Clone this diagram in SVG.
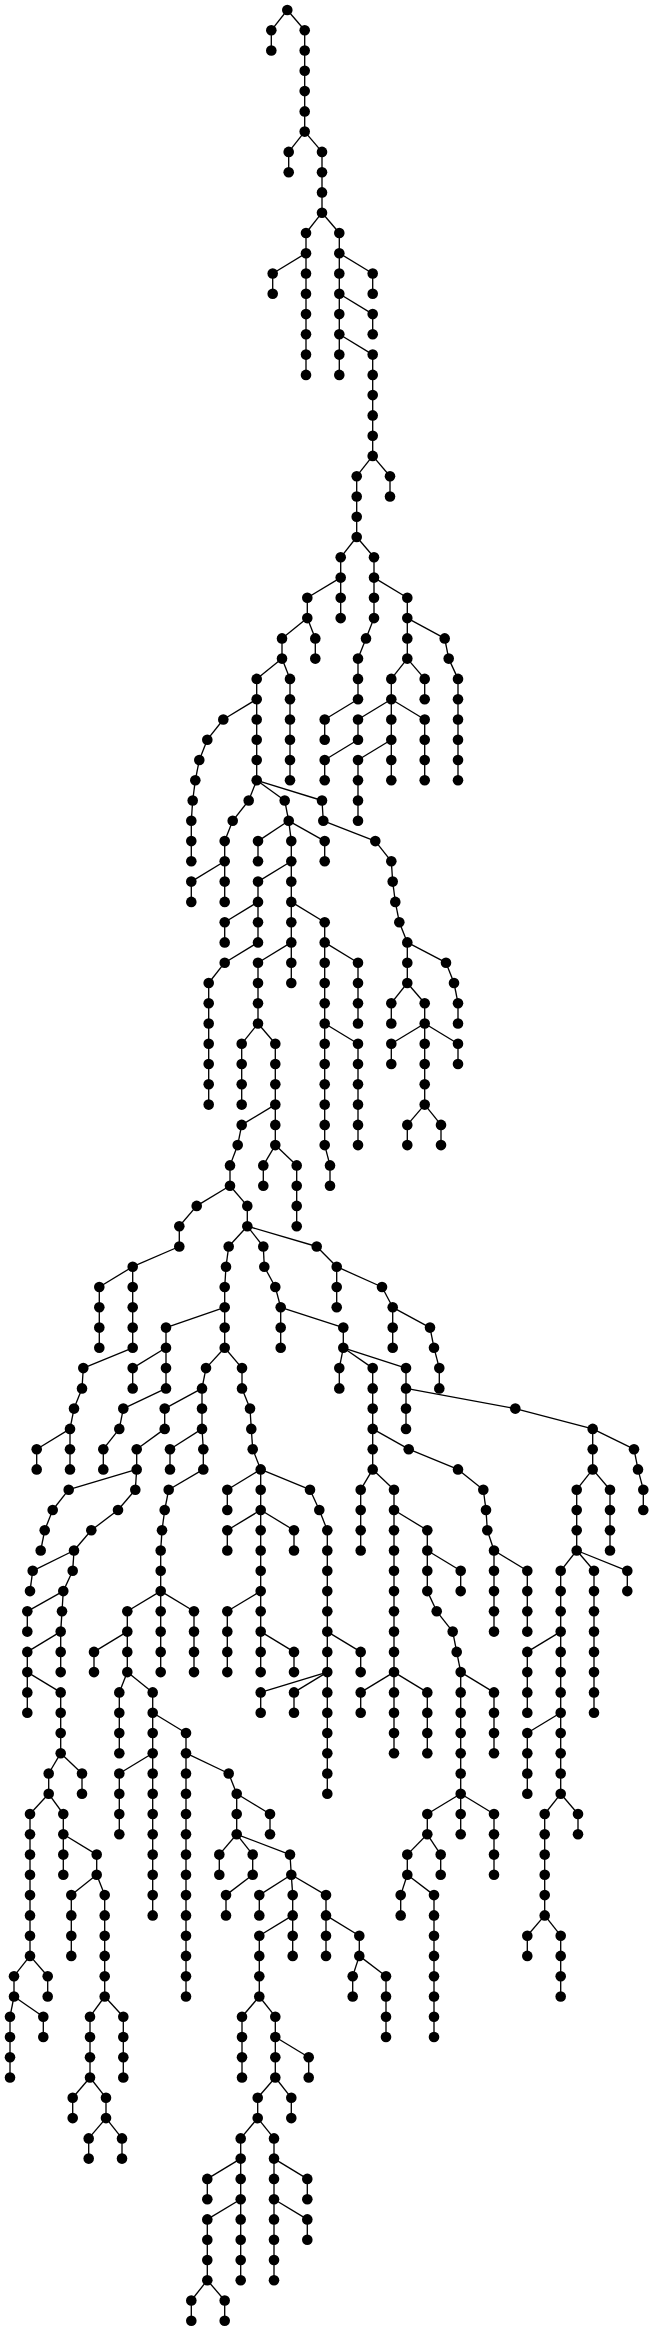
<svg xmlns="http://www.w3.org/2000/svg" width="654" height="2331" viewBox="0 0 654 2331">
<style>
path{fill:none;stroke:#000;stroke-width:1.33}
circle{fill:#000;stroke:none}
</style>
<rect width="654" height="2331" fill="#fff"/>
<g id="connectors">
<path d="M287.3 10L271.3 30.3"/><path d="M271.3 30.3L271.3 50.5"/>
<path d="M287.3 10L304.7 30.3"/><path d="M304.7 30.3L304.7 50.5"/><path d="M304.7 50.5L304.7 70.8"/><path d="M304.7 70.8L304.7 91.1"/><path d="M304.7 91.1L304.7 111.4"/><path d="M304.7 111.4L304.7 131.6"/>
<path d="M304.7 131.6L288.7 151.9"/><path d="M288.7 151.9L288.7 172.2"/>
<path d="M304.7 131.6L322 151.9"/><path d="M322 151.9L322 172.2"/><path d="M322 172.2L322 192.4"/><path d="M322 192.4L322 212.7"/>
<path d="M322 212.7L306 233"/><path d="M306 233L306 253.2"/><path d="M306 253.2L306 273.5"/><path d="M306 273.5L306 293.8"/><path d="M306 293.8L306 314.1"/><path d="M306 314.1L306 334.3"/><path d="M306 334.3L306 354.6"/><path d="M306 354.6L306 374.9"/>
<path d="M322 212.7L339.3 233"/><path d="M339.3 233L339.3 253.2"/><path d="M339.3 253.2L339.3 273.5"/><path d="M339.3 273.5L339.3 293.8"/><path d="M339.3 293.8L339.3 314.1"/><path d="M339.3 314.1L339.3 334.3"/><path d="M339.3 334.3L339.3 354.6"/><path d="M339.3 354.6L339.3 374.9"/>
<path d="M306 253.2L272.7 273.5"/><path d="M272.7 273.5L272.7 293.8"/>
<path d="M339.3 253.2L372.7 273.5"/><path d="M372.7 273.5L372.7 293.8"/>
<path d="M339.3 293.8L372.7 314.1"/><path d="M372.7 314.1L372.7 334.3"/>
<path d="M339.3 334.3L372.7 354.6"/><path d="M372.7 354.6L372.7 374.9"/><path d="M372.7 374.9L372.7 395.1"/><path d="M372.7 395.1L372.7 415.4"/><path d="M372.7 415.4L372.7 435.7"/><path d="M372.7 435.7L372.7 455.9"/>
<path d="M372.7 455.9L390 476.2"/><path d="M390 476.2L390 496.5"/>
<path d="M372.7 455.9L356.7 476.2"/><path d="M356.7 476.2L356.7 496.5"/><path d="M356.7 496.5L356.7 516.8"/><path d="M356.7 516.8L356.7 537"/>
<path d="M356.7 537L340.7 557.3"/><path d="M340.7 557.3L340.7 577.6"/><path d="M340.7 577.6L340.7 597.8"/><path d="M340.7 597.8L340.7 618.1"/>
<path d="M340.7 577.6L307.3 597.8"/><path d="M307.3 597.8L307.3 618.1"/>
<path d="M307.3 618.1L315.3 638.4"/><path d="M315.3 638.4L315.3 658.6"/>
<path d="M307.3 618.1L282 638.4"/><path d="M282 638.4L282 658.6"/>
<path d="M282 658.6L290 678.9"/><path d="M290 678.9L290 699.2"/><path d="M290 699.2L290 719.5"/><path d="M290 719.5L290 739.7"/><path d="M290 739.7L290 760"/><path d="M290 760L290 780.3"/>
<path d="M282 658.6L256.7 678.9"/><path d="M256.7 678.9L256.7 699.2"/><path d="M256.7 699.2L256.7 719.5"/><path d="M256.7 719.5L256.7 739.7"/><path d="M256.7 739.7L256.7 760"/><path d="M256.7 760L256.7 780.3"/>
<path d="M256.7 699.2L223.3 719.5"/><path d="M223.3 719.5L207.3 739.7"/><path d="M207.3 739.7L199.3 760"/><path d="M199.3 760L195.3 780.3"/><path d="M195.3 780.3L192.7 800.5"/><path d="M192.7 800.5L191.3 820.8"/><path d="M191.3 820.8L191.3 841.1"/><path d="M191.3 841.1L191.3 861.3"/>
<path d="M356.7 537L374 557.3"/><path d="M374 557.3L374 577.6"/><path d="M374 577.6L374 597.8"/><path d="M374 597.8L374 618.1"/>
<path d="M374 618.1L366 638.4"/><path d="M366 638.4L358 658.6"/><path d="M358 658.6L358 678.9"/><path d="M358 678.9L358 699.2"/>
<path d="M358 699.2L324.7 719.5"/><path d="M324.7 719.5L324.7 739.7"/>
<path d="M374 577.6L407.3 597.8"/><path d="M407.3 597.8L407.3 618.1"/><path d="M407.3 618.1L407.3 638.4"/><path d="M407.3 638.4L407.3 658.6"/>
<path d="M407.3 618.1L444.7 638.4"/><path d="M444.7 638.4L448.7 658.6"/><path d="M448.7 658.6L458 678.9"/><path d="M458 678.9L458 699.2"/><path d="M458 699.2L458 719.5"/><path d="M458 719.5L458 739.7"/><path d="M458 739.7L458 760"/><path d="M458 760L458 780.3"/>
<path d="M407.3 658.6L424.7 678.9"/><path d="M424.7 678.9L424.7 699.2"/>
<path d="M407.3 658.6L391.3 678.9"/><path d="M391.3 678.9L391.3 699.2"/><path d="M391.3 699.2L391.3 719.5"/><path d="M391.3 719.5L391.3 739.7"/><path d="M391.3 739.7L391.3 760"/><path d="M391.3 760L391.3 780.3"/>
<path d="M391.3 699.2L358 719.5"/><path d="M358 719.5L358 739.7"/>
<path d="M391.3 699.2L424.7 719.5"/><path d="M424.7 719.5L424.7 739.7"/><path d="M424.7 739.7L424.7 760"/><path d="M424.7 760L424.7 780.3"/>
<path d="M358 739.7L324.7 760"/><path d="M324.7 760L324.7 780.3"/>
<path d="M391.3 739.7L358 760"/><path d="M358 760L358 780.3"/><path d="M358 780.3L358 800.5"/><path d="M358 800.5L358 820.8"/>
<path d="M256.7 780.3L248.7 800.5"/><path d="M248.7 800.5L232.7 820.8"/><path d="M232.7 820.8L224.7 841.1"/><path d="M224.7 841.1L224.7 861.3"/><path d="M224.7 861.3L224.7 881.6"/><path d="M224.7 881.6L224.7 901.9"/>
<path d="M224.7 861.3L191.3 881.6"/><path d="M191.3 881.6L191.3 901.9"/>
<path d="M256.7 780.3L284.7 800.5"/><path d="M284.7 800.5L288.7 820.8"/>
<path d="M288.7 820.8L258 841.1"/><path d="M258 841.1L258 861.3"/>
<path d="M288.7 820.8L324.7 841.1"/><path d="M324.7 841.1L324.7 861.3"/>
<path d="M288.7 820.8L291.3 841.1"/><path d="M291.3 841.1L291.3 861.3"/><path d="M291.3 861.3L291.3 881.6"/><path d="M291.3 881.6L291.3 901.9"/><path d="M291.3 901.9L291.3 922.2"/><path d="M291.3 922.2L291.3 942.4"/><path d="M291.3 942.4L291.3 962.7"/><path d="M291.3 962.7L291.3 983"/>
<path d="M256.7 780.3L322 800.5"/><path d="M322 800.5L323.3 820.8"/><path d="M323.3 820.8L375.3 841.1"/><path d="M375.3 841.1L391.3 861.3"/><path d="M391.3 861.3L392.7 881.6"/><path d="M392.7 881.6L395.3 901.9"/><path d="M395.3 901.9L399.3 922.2"/><path d="M399.3 922.2L407.3 942.4"/><path d="M407.3 942.4L407.3 962.7"/><path d="M407.3 962.7L407.3 983"/>
<path d="M291.3 861.3L258 881.6"/><path d="M258 881.6L258 901.9"/><path d="M258 901.9L258 922.2"/><path d="M258 922.2L258 942.4"/>
<path d="M258 901.9L224.7 922.2"/><path d="M224.7 922.2L224.7 942.4"/>
<path d="M258 942.4L224.7 962.7"/><path d="M224.7 962.7L208.7 983"/><path d="M208.7 983L208.7 1003.2"/><path d="M208.7 1003.2L208.7 1023.5"/><path d="M208.7 1023.5L208.7 1043.8"/><path d="M208.7 1043.8L208.7 1064"/><path d="M208.7 1064L208.7 1084.3"/><path d="M208.7 1084.3L208.7 1104.6"/>
<path d="M291.3 901.9L324.7 922.2"/><path d="M324.7 922.2L324.7 942.4"/><path d="M324.7 942.4L324.7 962.7"/><path d="M324.7 962.7L324.7 983"/><path d="M324.7 983L324.7 1003.2"/><path d="M324.7 1003.2L324.7 1023.5"/><path d="M324.7 1023.5L324.7 1043.8"/><path d="M324.7 1043.8L324.7 1064"/><path d="M324.7 1064L324.7 1084.3"/><path d="M324.7 1084.3L324.7 1104.6"/><path d="M324.7 1104.6L324.7 1124.9"/><path d="M324.7 1124.9L324.7 1145.1"/><path d="M324.7 1145.1L330 1165.4"/><path d="M330 1165.4L330 1185.7"/>
<path d="M324.7 942.4L358 962.7"/><path d="M358 962.7L358 983"/><path d="M358 983L358 1003.2"/><path d="M358 1003.2L358 1023.5"/>
<path d="M324.7 1023.5L358 1043.8"/><path d="M358 1043.8L358 1064"/><path d="M358 1064L358 1084.3"/><path d="M358 1084.3L358 1104.6"/><path d="M358 1104.6L358 1124.9"/><path d="M358 1124.9L358 1145.1"/>
<path d="M291.3 942.4L258 962.7"/><path d="M258 962.7L258 983"/><path d="M258 983L258 1003.2"/><path d="M258 1003.2L258 1023.5"/>
<path d="M258 1023.5L241.7 1043.8"/><path d="M241.7 1043.8L241.7 1064"/><path d="M241.7 1064L241.7 1084.3"/><path d="M241.7 1084.3L241.7 1104.6"/>
<path d="M258 1023.5L275.3 1043.8"/><path d="M275.3 1043.8L275.3 1064"/><path d="M275.3 1064L275.3 1084.3"/><path d="M275.3 1084.3L275.3 1104.6"/><path d="M275.3 1104.6L275.3 1124.9"/><path d="M275.3 1124.9L275.3 1145.1"/>
<path d="M275.3 1104.6L241.7 1124.9"/><path d="M241.7 1124.9L237.7 1145.1"/><path d="M237.7 1145.1L230 1165.4"/><path d="M230 1165.4L230 1185.7"/>
<path d="M275.3 1145.1L263.3 1165.4"/><path d="M263.3 1165.4L263.3 1185.7"/>
<path d="M275.3 1145.1L296.7 1165.4"/><path d="M296.7 1165.4L296.7 1185.7"/><path d="M296.7 1185.7L296.7 1205.9"/><path d="M296.7 1205.9L296.7 1226.2"/>
<path d="M407.3 942.4L446 962.7"/><path d="M446 962.7L454 983"/><path d="M454 983L458 1003.2"/><path d="M458 1003.2L458 1023.5"/>
<path d="M407.3 983L391.3 1003.2"/><path d="M391.3 1003.2L391.3 1023.5"/>
<path d="M407.3 983L424.7 1003.2"/><path d="M424.7 1003.2L424.7 1023.5"/><path d="M424.7 1023.5L424.7 1043.8"/><path d="M424.7 1043.8L424.7 1064"/><path d="M424.7 1064L424.7 1084.3"/><path d="M424.7 1084.3L424.7 1104.6"/>
<path d="M424.7 1023.5L391.3 1043.8"/><path d="M391.3 1043.8L391.3 1064"/>
<path d="M424.7 1023.5L458 1043.8"/><path d="M458 1043.8L458 1064"/>
<path d="M424.7 1104.6L407.3 1124.9"/><path d="M407.3 1124.9L407.3 1145.1"/>
<path d="M424.7 1104.6L441 1124.9"/><path d="M441 1124.9L441 1145.1"/>
<path d="M230 1185.7L196.7 1205.9"/><path d="M196.7 1205.9L179.3 1226.2"/><path d="M179.3 1226.2L179.3 1246.5"/><path d="M179.3 1246.5L132.7 1266.7"/><path d="M132.7 1266.7L132.7 1287"/><path d="M132.7 1287L132.7 1307.3"/><path d="M132.7 1307.3L132.7 1327.6"/><path d="M132.7 1327.6L132.7 1347.8"/>
<path d="M132.7 1266.7L99.3 1287"/><path d="M99.3 1287L99.3 1307.3"/><path d="M99.3 1307.3L99.3 1327.6"/><path d="M99.3 1327.6L99.3 1347.8"/>
<path d="M132.7 1347.8L83.3 1368.1"/><path d="M83.3 1368.1L82 1388.4"/><path d="M82 1388.4L74 1408.6"/><path d="M74 1408.6L70 1428.9"/><path d="M70 1428.9L70 1449.2"/><path d="M70 1449.2L70 1469.4"/>
<path d="M70 1428.9L36.7 1449.2"/><path d="M36.7 1449.2L36.7 1469.4"/>
<path d="M230 1185.7L247.3 1205.9"/><path d="M247.3 1205.9L247.3 1226.2"/>
<path d="M247.3 1226.2L228.7 1246.5"/><path d="M228.7 1246.5L226 1266.7"/><path d="M226 1266.7L224.7 1287"/><path d="M224.7 1287L224.7 1307.3"/><path d="M224.7 1307.3L224.7 1327.6"/><path d="M224.7 1327.6L224.7 1347.8"/>
<path d="M224.7 1307.3L166 1327.6"/><path d="M166 1327.6L166 1347.8"/><path d="M166 1347.8L166 1368.1"/><path d="M166 1368.1L166 1388.4"/>
<path d="M166 1347.8L132.7 1368.1"/><path d="M132.7 1368.1L132.7 1388.4"/>
<path d="M166 1388.4L123.3 1408.6"/><path d="M123.3 1408.6L119.3 1428.9"/><path d="M119.3 1428.9L103.3 1449.2"/><path d="M103.3 1449.2L103.3 1469.4"/>
<path d="M224.7 1347.8L206 1368.1"/><path d="M206 1368.1L202 1388.4"/><path d="M202 1388.4L202 1408.6"/><path d="M202 1408.6L202 1428.9"/><path d="M202 1428.9L203.3 1449.2"/><path d="M203.3 1449.2L203.3 1469.4"/>
<path d="M202 1388.4L164.7 1408.6"/><path d="M164.7 1408.6L164.7 1428.9"/><path d="M164.7 1428.9L136.7 1449.2"/><path d="M136.7 1449.2L136.7 1469.4"/>
<path d="M202 1428.9L170 1449.2"/><path d="M170 1449.2L170 1469.4"/>
<path d="M136.7 1469.4L68.7 1489.7"/><path d="M68.7 1489.7L52.7 1510"/><path d="M52.7 1510L44.7 1530.3"/><path d="M44.7 1530.3L40.7 1550.5"/>
<path d="M136.7 1469.4L135.3 1489.7"/><path d="M135.3 1489.7L118 1510"/><path d="M118 1510L91.3 1530.3"/><path d="M91.3 1530.3L74 1550.5"/>
<path d="M203.3 1469.4L168.7 1489.7"/><path d="M168.7 1489.7L164.7 1510"/><path d="M164.7 1510L162 1530.3"/><path d="M162 1530.3L160.7 1550.5"/><path d="M160.7 1550.5L160.7 1570.8"/><path d="M160.7 1570.8L160.7 1591.1"/>
<path d="M224.7 1347.8L242 1368.1"/><path d="M242 1368.1L242 1388.4"/><path d="M242 1388.4L250 1408.6"/><path d="M250 1408.6L251.3 1428.9"/><path d="M251.3 1428.9L252.7 1449.2"/><path d="M252.7 1449.2L260.7 1469.4"/><path d="M260.7 1469.4L260.7 1489.7"/><path d="M260.7 1489.7L260.7 1510"/><path d="M260.7 1510L260.7 1530.3"/><path d="M260.7 1530.3L260.7 1550.5"/><path d="M260.7 1550.5L260.7 1570.8"/><path d="M260.7 1570.8L260.7 1591.1"/><path d="M260.7 1591.1L260.7 1611.3"/><path d="M260.7 1611.3L260.7 1631.6"/><path d="M260.7 1631.6L260.7 1651.9"/><path d="M260.7 1651.9L260.7 1672.1"/>
<path d="M260.7 1469.4L227.3 1489.7"/><path d="M227.3 1489.7L227.3 1510"/>
<path d="M260.7 1510L227.3 1530.3"/><path d="M227.3 1530.3L227.3 1550.5"/>
<path d="M260.7 1510L294 1530.3"/><path d="M294 1530.3L294 1550.5"/>
<path d="M260.7 1591.1L227.3 1611.3"/><path d="M227.3 1611.3L227.3 1631.6"/><path d="M227.3 1631.6L227.3 1651.9"/><path d="M227.3 1651.9L227.3 1672.1"/>
<path d="M260.7 1631.6L294 1651.9"/><path d="M294 1651.9L294 1672.1"/>
<path d="M260.7 1469.4L310 1489.7"/><path d="M310 1489.7L319.3 1510"/><path d="M319.3 1510L327.3 1530.3"/><path d="M327.3 1530.3L327.3 1550.5"/><path d="M327.3 1550.5L327.3 1570.8"/><path d="M327.3 1570.8L327.3 1591.1"/><path d="M327.3 1591.1L327.3 1611.3"/><path d="M327.3 1611.3L327.3 1631.6"/><path d="M327.3 1631.6L327.3 1651.9"/><path d="M327.3 1651.9L327.3 1672.1"/><path d="M327.3 1672.1L327.3 1692.4"/><path d="M327.3 1692.4L327.3 1712.7"/><path d="M327.3 1712.7L327.3 1733"/><path d="M327.3 1733L327.3 1753.2"/><path d="M327.3 1753.2L327.3 1773.5"/><path d="M327.3 1773.5L327.3 1793.8"/>
<path d="M327.3 1631.6L360.7 1651.9"/><path d="M360.7 1651.9L360.7 1672.1"/>
<path d="M327.3 1672.1L260.7 1692.4"/><path d="M260.7 1692.4L260.7 1712.7"/>
<path d="M327.3 1672.1L294 1692.4"/><path d="M294 1692.4L294 1712.7"/>
<path d="M74 1550.5L32.7 1570.8"/><path d="M32.7 1570.8L30 1591.1"/>
<path d="M74 1550.5L72.7 1570.8"/><path d="M72.7 1570.8L63.3 1591.1"/><path d="M63.3 1591.1L62 1611.3"/><path d="M62 1611.3L60.7 1631.6"/><path d="M60.7 1631.6L60.7 1651.9"/><path d="M60.7 1651.9L60.7 1672.1"/>
<path d="M63.3 1591.1L27.3 1611.3"/><path d="M27.3 1611.3L27.3 1631.6"/>
<path d="M60.7 1631.6L27.3 1651.9"/><path d="M27.3 1651.9L27.3 1672.1"/><path d="M27.3 1672.1L27.3 1692.4"/><path d="M27.3 1692.4L27.3 1712.7"/>
<path d="M27.3 1672.1L60.7 1692.4"/><path d="M60.7 1692.4L60.7 1712.7"/><path d="M60.7 1712.7L60.7 1733"/><path d="M60.7 1733L60.7 1753.2"/>
<path d="M60.7 1753.2L48.7 1773.5"/><path d="M48.7 1773.5L48.7 1793.8"/>
<path d="M60.7 1753.2L82 1773.5"/><path d="M82 1773.5L82 1793.8"/>
<path d="M48.7 1793.8L30 1814"/><path d="M30 1814L30 1834.3"/><path d="M30 1834.3L30 1854.6"/><path d="M30 1854.6L30 1874.8"/><path d="M30 1874.8L30 1895.1"/><path d="M30 1895.1L30 1915.4"/><path d="M30 1915.4L30 1935.7"/><path d="M30 1935.7L30 1955.9"/>
<path d="M30 1955.9L14 1976.2"/><path d="M14 1976.2L14 1996.5"/><path d="M14 1996.5L10 2016.7"/><path d="M10 2016.7L10 2037"/><path d="M10 2037L10 2057.3"/><path d="M10 2057.3L10 2077.5"/>
<path d="M30 1955.9L47.7 1976.2"/><path d="M47.7 1976.2L47.7 1996.5"/>
<path d="M14 1996.5L43.3 2016.7"/><path d="M43.3 2016.7L43.3 2037"/>
<path d="M48.7 1793.8L63.3 1814"/><path d="M63.3 1814L63.3 1834.3"/><path d="M63.3 1834.3L63.3 1854.6"/><path d="M63.3 1854.6L63.3 1874.8"/>
<path d="M63.3 1834.3L96.7 1854.6"/><path d="M96.7 1854.6L96.7 1874.8"/>
<path d="M96.7 1874.8L71.3 1895.1"/><path d="M71.3 1895.1L71.3 1915.4"/><path d="M71.3 1915.4L71.3 1935.7"/><path d="M71.3 1935.7L71.3 1955.9"/>
<path d="M96.7 1874.8L104.7 1895.1"/><path d="M104.7 1895.1L104.7 1915.4"/><path d="M104.7 1915.4L104.7 1935.7"/><path d="M104.7 1935.7L104.7 1955.9"/><path d="M104.7 1955.9L104.7 1976.2"/><path d="M104.7 1976.2L104.7 1996.5"/>
<path d="M104.7 1996.5L90 2016.7"/><path d="M90 2016.7L90 2037"/><path d="M90 2037L90 2057.3"/><path d="M90 2057.3L90 2077.5"/>
<path d="M104.7 1996.5L123.3 2016.7"/><path d="M123.3 2016.7L123.3 2037"/><path d="M123.3 2037L123.3 2057.3"/><path d="M123.3 2057.3L123.3 2077.5"/>
<path d="M90 2077.5L72.7 2097.8"/><path d="M72.7 2097.8L72.7 2118.1"/>
<path d="M90 2077.5L106 2097.8"/><path d="M106 2097.8L106 2118.1"/>
<path d="M106 2118.1L88.7 2138.4"/><path d="M88.7 2138.4L88.7 2158.6"/>
<path d="M106 2118.1L122 2138.4"/><path d="M122 2138.4L122 2158.6"/>
<path d="M160.7 1591.1L127.3 1611.3"/><path d="M127.3 1611.3L127.3 1631.6"/><path d="M127.3 1631.6L127.3 1651.9"/><path d="M127.3 1651.9L127.3 1672.1"/>
<path d="M160.7 1591.1L160.7 1611.3"/><path d="M160.7 1611.3L160.7 1631.6"/><path d="M160.7 1631.6L160.7 1651.9"/><path d="M160.7 1651.9L160.7 1672.1"/>
<path d="M160.7 1591.1L194 1611.3"/><path d="M194 1611.3L194 1631.6"/><path d="M194 1631.6L194 1651.9"/><path d="M194 1651.9L194 1672.1"/>
<path d="M127.3 1631.6L94 1651.9"/><path d="M94 1651.9L94 1672.1"/>
<path d="M127.3 1672.1L119.3 1692.4"/><path d="M119.3 1692.4L119.3 1712.7"/><path d="M119.3 1712.7L119.3 1733"/><path d="M119.3 1733L119.3 1753.2"/>
<path d="M127.3 1672.1L152.7 1692.4"/><path d="M152.7 1692.4L152.7 1712.7"/><path d="M152.7 1712.7L152.7 1733"/><path d="M152.7 1733L152.7 1753.2"/><path d="M152.7 1753.2L152.7 1773.5"/><path d="M152.7 1773.5L152.7 1793.8"/><path d="M152.7 1793.8L152.7 1814"/><path d="M152.7 1814L152.7 1834.3"/><path d="M152.7 1834.3L152.7 1854.6"/><path d="M152.7 1854.6L152.7 1874.8"/><path d="M152.7 1874.8L152.7 1895.1"/><path d="M152.7 1895.1L152.7 1915.4"/>
<path d="M152.7 1712.7L186 1733"/><path d="M186 1733L186 1753.2"/><path d="M186 1753.2L186 1773.5"/><path d="M186 1773.5L186 1793.8"/><path d="M186 1793.8L186 1814"/><path d="M186 1814L186 1834.3"/><path d="M186 1834.3L186 1854.6"/><path d="M186 1854.6L186 1874.8"/><path d="M186 1874.8L186 1895.1"/><path d="M186 1895.1L186 1915.4"/><path d="M186 1915.4L186 1935.7"/><path d="M186 1935.7L186 1955.9"/><path d="M186 1955.9L186 1976.2"/><path d="M186 1976.2L186 1996.5"/>
<path d="M152.7 1753.2L119.3 1773.5"/><path d="M119.3 1773.5L119.3 1793.8"/><path d="M119.3 1793.8L119.3 1814"/><path d="M119.3 1814L119.3 1834.3"/>
<path d="M186 1753.2L228.7 1773.5"/><path d="M228.7 1773.5L236.7 1793.8"/><path d="M236.7 1793.8L236.7 1814"/><path d="M236.7 1814L236.7 1834.3"/>
<path d="M236.7 1793.8L270 1814"/><path d="M270 1814L270 1834.3"/>
<path d="M236.7 1834.3L219.3 1854.6"/><path d="M219.3 1854.6L219.3 1874.8"/>
<path d="M236.7 1834.3L252.7 1854.6"/><path d="M252.7 1854.6L252.7 1874.8"/><path d="M252.7 1874.8L226 1895.1"/><path d="M226 1895.1L226 1915.4"/>
<path d="M236.7 1834.3L290 1854.6"/><path d="M290 1854.6L291.3 1874.8"/>
<path d="M291.3 1874.8L259.3 1895.1"/><path d="M259.3 1895.1L259.3 1915.4"/>
<path d="M291.3 1874.8L292.7 1895.1"/><path d="M292.7 1895.1L292.7 1915.4"/><path d="M292.7 1915.4L292.7 1935.7"/><path d="M292.7 1935.7L292.7 1955.9"/>
<path d="M292.7 1915.4L259.3 1935.7"/><path d="M259.3 1935.7L259.3 1955.9"/><path d="M259.3 1955.9L259.3 1976.2"/><path d="M259.3 1976.2L259.3 1996.5"/>
<path d="M259.3 1996.5L242 2016.7"/><path d="M242 2016.7L242 2037"/><path d="M242 2037L242 2057.3"/><path d="M242 2057.3L242 2077.5"/>
<path d="M259.3 1996.5L275.3 2016.7"/><path d="M275.3 2016.7L275.3 2037"/><path d="M275.3 2037L275.3 2057.3"/><path d="M275.3 2057.3L275.3 2077.5"/>
<path d="M275.3 2037L308.7 2057.3"/><path d="M308.7 2057.3L308.7 2077.5"/>
<path d="M275.3 2077.5L257.7 2097.8"/><path d="M257.7 2097.8L257.7 2118.1"/>
<path d="M275.3 2077.5L291.3 2097.8"/><path d="M291.3 2097.8L291.3 2118.1"/>
<path d="M257.7 2118.1L240.7 2138.4"/><path d="M240.7 2138.4L240.7 2158.6"/><path d="M240.7 2158.6L240.7 2178.9"/><path d="M240.7 2178.9L240.7 2199.2"/><path d="M240.7 2199.2L240.7 2219.4"/><path d="M240.7 2219.4L240.7 2239.7"/><path d="M240.7 2239.7L240.7 2260"/><path d="M240.7 2260L240.7 2280.2"/>
<path d="M240.7 2158.6L207.3 2178.9"/><path d="M207.3 2178.9L207.3 2199.2"/>
<path d="M240.7 2199.2L207.3 2219.4"/><path d="M207.3 2219.4L207.3 2239.7"/><path d="M207.3 2239.7L207.3 2260"/><path d="M207.3 2260L207.3 2280.2"/>
<path d="M207.3 2280.2L191.3 2300.5"/><path d="M191.3 2300.5L191.3 2320.8"/>
<path d="M207.3 2280.2L224.7 2300.5"/><path d="M224.7 2300.5L224.7 2320.8"/>
<path d="M257.7 2118.1L274 2138.4"/><path d="M274 2138.4L274 2158.6"/><path d="M274 2158.6L274 2178.9"/><path d="M274 2178.9L274 2199.2"/><path d="M274 2199.2L274 2219.4"/><path d="M274 2219.4L274 2239.7"/><path d="M274 2239.7L274 2260"/><path d="M274 2260L274 2280.2"/>
<path d="M274 2158.6L307.3 2178.9"/><path d="M307.3 2178.9L307.3 2199.2"/>
<path d="M274 2199.2L307.3 2219.4"/><path d="M307.3 2219.4L307.3 2239.7"/>
<path d="M291.3 1874.8L326 1895.1"/><path d="M326 1895.1L326 1915.4"/><path d="M326 1915.4L326 1935.7"/><path d="M326 1935.7L326 1955.9"/>
<path d="M326 1915.4L359.3 1935.7"/><path d="M359.3 1935.7L359.3 1955.9"/>
<path d="M359.3 1955.9L352.7 1976.2"/><path d="M352.7 1976.2L352.7 1996.5"/>
<path d="M359.3 1955.9L386 1976.2"/><path d="M386 1976.2L386 1996.5"/><path d="M386 1996.5L386 2016.7"/><path d="M386 2016.7L386 2037"/>
<path d="M247.3 1226.2L263.3 1246.5"/><path d="M263.3 1246.5L264.3 1266.7"/><path d="M264.3 1266.7L275.3 1287"/><path d="M275.3 1287L280.7 1307.3"/><path d="M280.7 1307.3L280.7 1327.6"/><path d="M280.7 1327.6L280.7 1347.8"/>
<path d="M280.7 1307.3L343.3 1327.6"/><path d="M343.3 1327.6L343.3 1347.8"/>
<path d="M343.3 1347.8L339.3 1368.1"/><path d="M339.3 1368.1L339.3 1388.4"/>
<path d="M343.3 1347.8L372.7 1368.1"/><path d="M372.7 1368.1L372.7 1388.4"/><path d="M372.7 1388.4L372.7 1408.6"/><path d="M372.7 1408.6L372.7 1428.9"/><path d="M372.7 1428.9L372.7 1449.2"/><path d="M372.7 1449.2L372.7 1469.4"/>
<path d="M343.3 1347.8L406 1368.1"/><path d="M406 1368.1L406 1388.4"/><path d="M406 1388.4L406 1408.6"/><path d="M406 1408.6L406 1428.9"/>
<path d="M247.3 1226.2L316.7 1246.5"/><path d="M316.7 1246.5L336.7 1266.7"/><path d="M336.7 1266.7L336.7 1287"/><path d="M336.7 1287L336.7 1307.3"/>
<path d="M336.7 1266.7L382 1287"/><path d="M382 1287L392.7 1307.3"/><path d="M392.7 1307.3L392.7 1327.6"/><path d="M392.7 1327.6L392.7 1347.8"/>
<path d="M392.7 1307.3L430 1327.6"/><path d="M430 1327.6L434 1347.8"/><path d="M434 1347.8L439.3 1368.1"/><path d="M439.3 1368.1L439.3 1388.4"/>
<path d="M406 1388.4L515.3 1408.6"/><path d="M515.3 1408.6L592.7 1428.9"/><path d="M592.7 1428.9L592.7 1449.2"/><path d="M592.7 1449.2L592.7 1469.4"/>
<path d="M592.7 1428.9L634 1449.2"/><path d="M634 1449.2L638 1469.4"/><path d="M638 1469.4L643.3 1489.7"/><path d="M643.3 1489.7L643.3 1510"/>
<path d="M592.7 1469.4L576.7 1489.7"/><path d="M576.7 1489.7L576.7 1510"/><path d="M576.7 1510L576.7 1530.3"/><path d="M576.7 1530.3L576.7 1550.5"/>
<path d="M592.7 1469.4L610 1489.7"/><path d="M610 1489.7L610 1510"/><path d="M610 1510L610 1530.3"/><path d="M610 1530.3L610 1550.5"/>
<path d="M372.7 1428.9L408.7 1449.2"/><path d="M408.7 1449.2L458 1469.4"/><path d="M458 1469.4L483.3 1489.7"/><path d="M483.3 1489.7L486 1510"/><path d="M486 1510L487.3 1530.3"/><path d="M487.3 1530.3L494 1550.5"/><path d="M494 1550.5L494 1570.8"/><path d="M494 1570.8L494 1591.1"/><path d="M494 1591.1L494 1611.3"/><path d="M494 1611.3L494 1631.6"/>
<path d="M494 1550.5L527.3 1570.8"/><path d="M527.3 1570.8L527.3 1591.1"/><path d="M527.3 1591.1L527.3 1611.3"/><path d="M527.3 1611.3L527.3 1631.6"/>
<path d="M372.7 1469.4L360.7 1489.7"/><path d="M360.7 1489.7L360.7 1510"/><path d="M360.7 1510L360.7 1530.3"/><path d="M360.7 1530.3L360.7 1550.5"/>
<path d="M372.7 1469.4L394 1489.7"/><path d="M394 1489.7L394 1510"/><path d="M394 1510L394 1530.3"/><path d="M394 1530.3L394 1550.5"/><path d="M394 1550.5L394 1570.8"/><path d="M394 1570.8L394 1591.1"/><path d="M394 1591.1L394 1611.3"/><path d="M394 1611.3L394 1631.6"/><path d="M394 1631.6L394 1651.9"/><path d="M394 1651.9L394 1672.1"/>
<path d="M394 1510L427.3 1530.3"/><path d="M427.3 1530.3L427.3 1550.5"/><path d="M427.3 1550.5L427.3 1570.8"/><path d="M427.3 1570.8L427.3 1591.1"/><path d="M427.3 1591.1L436.7 1611.3"/><path d="M436.7 1611.3L452.7 1631.6"/><path d="M452.7 1631.6L456.7 1651.9"/><path d="M456.7 1651.9L460.7 1672.1"/><path d="M460.7 1672.1L460.7 1692.4"/><path d="M460.7 1692.4L460.7 1712.7"/><path d="M460.7 1712.7L460.7 1733"/><path d="M460.7 1733L460.7 1753.2"/><path d="M460.7 1753.2L460.7 1773.5"/><path d="M460.7 1773.5L460.7 1793.8"/>
<path d="M427.3 1550.5L460.7 1570.8"/><path d="M460.7 1570.8L460.7 1591.1"/>
<path d="M394 1672.1L360.7 1692.4"/><path d="M360.7 1692.4L360.7 1712.7"/>
<path d="M394 1672.1L394 1692.4"/><path d="M394 1692.4L394 1712.7"/><path d="M394 1712.7L394 1733"/><path d="M394 1733L394 1753.2"/>
<path d="M394 1672.1L427.3 1692.4"/><path d="M427.3 1692.4L427.3 1712.7"/><path d="M427.3 1712.7L427.3 1733"/><path d="M427.3 1733L427.3 1753.2"/>
<path d="M460.7 1672.1L494 1692.4"/><path d="M494 1692.4L494 1712.7"/><path d="M494 1712.7L494 1733"/><path d="M494 1733L494 1753.2"/>
<path d="M460.7 1793.8L427.3 1814"/><path d="M427.3 1814L427.3 1834.3"/>
<path d="M460.7 1793.8L460.7 1814"/><path d="M460.7 1814L460.7 1834.3"/>
<path d="M460.7 1793.8L494 1814"/><path d="M494 1814L494 1834.3"/><path d="M494 1834.3L494 1854.6"/><path d="M494 1854.6L494 1874.8"/>
<path d="M427.3 1834.3L407.3 1854.6"/><path d="M407.3 1854.6L407.3 1874.8"/>
<path d="M427.3 1834.3L440.7 1854.6"/><path d="M440.7 1854.6L440.7 1874.8"/>
<path d="M407.3 1874.8L400.7 1895.1"/><path d="M400.7 1895.1L400.7 1915.4"/>
<path d="M407.3 1874.8L434 1895.1"/><path d="M434 1895.1L434 1915.4"/><path d="M434 1915.4L434 1935.7"/><path d="M434 1935.7L434 1955.9"/><path d="M434 1955.9L434 1976.2"/><path d="M434 1976.2L434 1996.5"/><path d="M434 1996.5L434 2016.7"/><path d="M434 2016.7L434 2037"/>
<path d="M576.7 1550.5L560.7 1570.8"/><path d="M560.7 1570.8L560.7 1591.1"/><path d="M560.7 1591.1L560.7 1611.3"/><path d="M560.7 1611.3L560.7 1631.6"/><path d="M560.7 1631.6L560.7 1651.9"/><path d="M560.7 1651.9L560.7 1672.1"/><path d="M560.7 1672.1L560.7 1692.4"/><path d="M560.7 1692.4L560.7 1712.7"/><path d="M560.7 1712.7L560.7 1733"/><path d="M560.7 1733L560.7 1753.2"/><path d="M560.7 1753.2L560.7 1773.5"/><path d="M560.7 1773.5L560.7 1793.8"/>
<path d="M560.7 1631.6L527.3 1651.9"/><path d="M527.3 1651.9L527.3 1672.1"/><path d="M527.3 1672.1L527.3 1692.4"/><path d="M527.3 1692.4L527.3 1712.7"/>
<path d="M560.7 1712.7L527.3 1733"/><path d="M527.3 1733L527.3 1753.2"/><path d="M527.3 1753.2L527.3 1773.5"/><path d="M527.3 1773.5L527.3 1793.8"/>
<path d="M576.7 1550.5L594 1570.8"/><path d="M594 1570.8L594 1591.1"/><path d="M594 1591.1L594 1611.3"/><path d="M594 1611.3L594 1631.6"/><path d="M594 1631.6L594 1651.9"/><path d="M594 1651.9L594 1672.1"/><path d="M594 1672.1L594 1692.4"/><path d="M594 1692.4L594 1712.7"/>
<path d="M576.7 1550.5L627.3 1570.8"/><path d="M627.3 1570.8L627.3 1591.1"/>
<path d="M560.7 1793.8L544.7 1814"/><path d="M544.7 1814L544.7 1834.3"/><path d="M544.7 1834.3L544.7 1854.6"/><path d="M544.7 1854.6L544.7 1874.8"/><path d="M544.7 1874.8L544.7 1895.1"/><path d="M544.7 1895.1L544.7 1915.4"/>
<path d="M560.7 1793.8L578 1814"/><path d="M578 1814L578 1834.3"/>
<path d="M544.7 1915.4L527.3 1935.7"/><path d="M527.3 1935.7L527.3 1955.9"/>
<path d="M544.7 1915.4L560.7 1935.7"/><path d="M560.7 1935.7L560.7 1955.9"/><path d="M560.7 1955.9L560.7 1976.2"/><path d="M560.7 1976.2L560.7 1996.5"/>
</g>
<g id="nodes">
<g id="n0x287"><circle cx="287.3" cy="10" r="5.3"/></g>
<g id="n1x271"><circle cx="271.3" cy="30.3" r="5.3"/></g><g id="n2x271"><circle cx="271.3" cy="50.5" r="5.3"/></g>
<g id="n1x304"><circle cx="304.7" cy="30.3" r="5.3"/></g><g id="n2x304"><circle cx="304.7" cy="50.5" r="5.3"/></g><g id="n3x304"><circle cx="304.7" cy="70.8" r="5.3"/></g><g id="n4x304"><circle cx="304.7" cy="91.1" r="5.3"/></g><g id="n5x304"><circle cx="304.7" cy="111.4" r="5.3"/></g><g id="n6x304"><circle cx="304.7" cy="131.6" r="5.3"/></g>
<g id="n7x288"><circle cx="288.7" cy="151.9" r="5.3"/></g><g id="n8x288"><circle cx="288.7" cy="172.2" r="5.3"/></g>
<g id="n7x322"><circle cx="322" cy="151.9" r="5.3"/></g><g id="n8x322"><circle cx="322" cy="172.2" r="5.3"/></g><g id="n9x322"><circle cx="322" cy="192.4" r="5.3"/></g><g id="n10x322"><circle cx="322" cy="212.7" r="5.3"/></g>
<g id="n11x306"><circle cx="306" cy="233" r="5.3"/></g><g id="n12x306"><circle cx="306" cy="253.2" r="5.3"/></g><g id="n13x306"><circle cx="306" cy="273.5" r="5.3"/></g><g id="n14x306"><circle cx="306" cy="293.8" r="5.3"/></g><g id="n15x306"><circle cx="306" cy="314.1" r="5.3"/></g><g id="n16x306"><circle cx="306" cy="334.3" r="5.3"/></g><g id="n17x306"><circle cx="306" cy="354.6" r="5.3"/></g><g id="n18x306"><circle cx="306" cy="374.9" r="5.3"/></g>
<g id="n11x339"><circle cx="339.3" cy="233" r="5.3"/></g><g id="n12x339"><circle cx="339.3" cy="253.2" r="5.3"/></g><g id="n13x339"><circle cx="339.3" cy="273.5" r="5.3"/></g><g id="n14x339"><circle cx="339.3" cy="293.8" r="5.3"/></g><g id="n15x339"><circle cx="339.3" cy="314.1" r="5.3"/></g><g id="n16x339"><circle cx="339.3" cy="334.3" r="5.3"/></g><g id="n17x339"><circle cx="339.3" cy="354.6" r="5.3"/></g><g id="n18x339"><circle cx="339.3" cy="374.9" r="5.3"/></g>
<g id="n13x272"><circle cx="272.7" cy="273.5" r="5.3"/></g><g id="n14x272"><circle cx="272.7" cy="293.8" r="5.3"/></g>
<g id="n13x372"><circle cx="372.7" cy="273.5" r="5.3"/></g><g id="n14x372"><circle cx="372.7" cy="293.8" r="5.3"/></g><g id="n15x372"><circle cx="372.7" cy="314.1" r="5.3"/></g><g id="n16x372"><circle cx="372.7" cy="334.3" r="5.3"/></g><g id="n17x372"><circle cx="372.7" cy="354.6" r="5.3"/></g><g id="n18x372"><circle cx="372.7" cy="374.9" r="5.3"/></g><g id="n19x372"><circle cx="372.7" cy="395.1" r="5.3"/></g><g id="n20x372"><circle cx="372.7" cy="415.4" r="5.3"/></g><g id="n21x372"><circle cx="372.7" cy="435.7" r="5.3"/></g><g id="n22x372"><circle cx="372.7" cy="455.9" r="5.3"/></g>
<g id="n23x390"><circle cx="390" cy="476.2" r="5.3"/></g><g id="n24x390"><circle cx="390" cy="496.5" r="5.3"/></g>
<g id="n23x356"><circle cx="356.7" cy="476.2" r="5.3"/></g><g id="n24x356"><circle cx="356.7" cy="496.5" r="5.3"/></g><g id="n25x356"><circle cx="356.7" cy="516.8" r="5.3"/></g><g id="n26x356"><circle cx="356.7" cy="537" r="5.3"/></g>
<g id="n27x340"><circle cx="340.7" cy="557.3" r="5.3"/></g><g id="n28x340"><circle cx="340.7" cy="577.6" r="5.3"/></g><g id="n29x340"><circle cx="340.7" cy="597.8" r="5.3"/></g><g id="n30x340"><circle cx="340.7" cy="618.1" r="5.3"/></g>
<g id="n29x307"><circle cx="307.3" cy="597.8" r="5.3"/></g><g id="n30x307"><circle cx="307.3" cy="618.1" r="5.3"/></g>
<g id="n31x315"><circle cx="315.3" cy="638.4" r="5.3"/></g><g id="n32x315"><circle cx="315.3" cy="658.6" r="5.3"/></g>
<g id="n31x282"><circle cx="282" cy="638.4" r="5.3"/></g><g id="n32x282"><circle cx="282" cy="658.6" r="5.3"/></g>
<g id="n33x290"><circle cx="290" cy="678.9" r="5.3"/></g><g id="n34x290"><circle cx="290" cy="699.2" r="5.3"/></g><g id="n35x290"><circle cx="290" cy="719.5" r="5.3"/></g><g id="n36x290"><circle cx="290" cy="739.7" r="5.3"/></g><g id="n37x290"><circle cx="290" cy="760" r="5.3"/></g><g id="n38x290"><circle cx="290" cy="780.3" r="5.3"/></g>
<g id="n33x256"><circle cx="256.7" cy="678.9" r="5.3"/></g><g id="n34x256"><circle cx="256.7" cy="699.2" r="5.3"/></g><g id="n35x256"><circle cx="256.7" cy="719.5" r="5.3"/></g><g id="n36x256"><circle cx="256.7" cy="739.7" r="5.3"/></g><g id="n37x256"><circle cx="256.7" cy="760" r="5.3"/></g><g id="n38x256"><circle cx="256.7" cy="780.3" r="5.3"/></g>
<g id="n35x223"><circle cx="223.3" cy="719.5" r="5.3"/></g><g id="n36x207"><circle cx="207.3" cy="739.7" r="5.3"/></g><g id="n37x199"><circle cx="199.3" cy="760" r="5.3"/></g><g id="n38x195"><circle cx="195.3" cy="780.3" r="5.3"/></g><g id="n39x192"><circle cx="192.7" cy="800.5" r="5.3"/></g><g id="n40x191"><circle cx="191.3" cy="820.8" r="5.3"/></g><g id="n41x191"><circle cx="191.3" cy="841.1" r="5.3"/></g><g id="n42x191"><circle cx="191.3" cy="861.3" r="5.3"/></g>
<g id="n27x374"><circle cx="374" cy="557.3" r="5.3"/></g><g id="n28x374"><circle cx="374" cy="577.6" r="5.3"/></g><g id="n29x374"><circle cx="374" cy="597.8" r="5.3"/></g><g id="n30x374"><circle cx="374" cy="618.1" r="5.3"/></g>
<g id="n31x366"><circle cx="366" cy="638.4" r="5.3"/></g><g id="n32x358"><circle cx="358" cy="658.6" r="5.3"/></g><g id="n33x358"><circle cx="358" cy="678.9" r="5.3"/></g><g id="n34x358"><circle cx="358" cy="699.2" r="5.3"/></g>
<g id="n35x324"><circle cx="324.7" cy="719.5" r="5.3"/></g><g id="n36x324"><circle cx="324.7" cy="739.7" r="5.3"/></g>
<g id="n29x407"><circle cx="407.3" cy="597.8" r="5.3"/></g><g id="n30x407"><circle cx="407.3" cy="618.1" r="5.3"/></g><g id="n31x407"><circle cx="407.3" cy="638.4" r="5.3"/></g><g id="n32x407"><circle cx="407.3" cy="658.6" r="5.3"/></g>
<g id="n31x444"><circle cx="444.7" cy="638.4" r="5.3"/></g><g id="n32x448"><circle cx="448.7" cy="658.6" r="5.3"/></g><g id="n33x458"><circle cx="458" cy="678.9" r="5.3"/></g><g id="n34x458"><circle cx="458" cy="699.2" r="5.3"/></g><g id="n35x458"><circle cx="458" cy="719.5" r="5.3"/></g><g id="n36x458"><circle cx="458" cy="739.7" r="5.3"/></g><g id="n37x458"><circle cx="458" cy="760" r="5.3"/></g><g id="n38x458"><circle cx="458" cy="780.3" r="5.3"/></g>
<g id="n33x424"><circle cx="424.7" cy="678.9" r="5.3"/></g><g id="n34x424"><circle cx="424.7" cy="699.2" r="5.3"/></g>
<g id="n33x391"><circle cx="391.3" cy="678.9" r="5.3"/></g><g id="n34x391"><circle cx="391.3" cy="699.2" r="5.3"/></g><g id="n35x391"><circle cx="391.3" cy="719.5" r="5.3"/></g><g id="n36x391"><circle cx="391.3" cy="739.7" r="5.3"/></g><g id="n37x391"><circle cx="391.3" cy="760" r="5.3"/></g><g id="n38x391"><circle cx="391.3" cy="780.3" r="5.3"/></g>
<g id="n35x358"><circle cx="358" cy="719.5" r="5.3"/></g><g id="n36x358"><circle cx="358" cy="739.7" r="5.3"/></g>
<g id="n35x424"><circle cx="424.7" cy="719.5" r="5.3"/></g><g id="n36x424"><circle cx="424.7" cy="739.7" r="5.3"/></g><g id="n37x424"><circle cx="424.7" cy="760" r="5.3"/></g><g id="n38x424"><circle cx="424.7" cy="780.3" r="5.3"/></g>
<g id="n37x324"><circle cx="324.7" cy="760" r="5.3"/></g><g id="n38x324"><circle cx="324.7" cy="780.3" r="5.3"/></g>
<g id="n37x358"><circle cx="358" cy="760" r="5.3"/></g><g id="n38x358"><circle cx="358" cy="780.3" r="5.3"/></g><g id="n39x358"><circle cx="358" cy="800.5" r="5.3"/></g><g id="n40x358"><circle cx="358" cy="820.8" r="5.3"/></g>
<g id="n39x248"><circle cx="248.7" cy="800.5" r="5.3"/></g><g id="n40x232"><circle cx="232.7" cy="820.8" r="5.3"/></g><g id="n41x224"><circle cx="224.7" cy="841.1" r="5.3"/></g><g id="n42x224"><circle cx="224.7" cy="861.3" r="5.3"/></g><g id="n43x224"><circle cx="224.7" cy="881.6" r="5.3"/></g><g id="n44x224"><circle cx="224.7" cy="901.9" r="5.3"/></g>
<g id="n43x191"><circle cx="191.3" cy="881.6" r="5.3"/></g><g id="n44x191"><circle cx="191.3" cy="901.9" r="5.3"/></g>
<g id="n39x284"><circle cx="284.7" cy="800.5" r="5.3"/></g><g id="n40x288"><circle cx="288.7" cy="820.8" r="5.3"/></g>
<g id="n41x258"><circle cx="258" cy="841.1" r="5.3"/></g><g id="n42x258"><circle cx="258" cy="861.3" r="5.3"/></g>
<g id="n41x324"><circle cx="324.7" cy="841.1" r="5.3"/></g><g id="n42x324"><circle cx="324.7" cy="861.3" r="5.3"/></g>
<g id="n41x291"><circle cx="291.3" cy="841.1" r="5.3"/></g><g id="n42x291"><circle cx="291.3" cy="861.3" r="5.3"/></g><g id="n43x291"><circle cx="291.3" cy="881.6" r="5.3"/></g><g id="n44x291"><circle cx="291.3" cy="901.9" r="5.3"/></g><g id="n45x291"><circle cx="291.3" cy="922.2" r="5.3"/></g><g id="n46x291"><circle cx="291.3" cy="942.4" r="5.3"/></g><g id="n47x291"><circle cx="291.3" cy="962.7" r="5.3"/></g><g id="n48x291"><circle cx="291.3" cy="983" r="5.3"/></g>
<g id="n39x322"><circle cx="322" cy="800.5" r="5.3"/></g><g id="n40x323"><circle cx="323.3" cy="820.8" r="5.3"/></g><g id="n41x375"><circle cx="375.3" cy="841.1" r="5.3"/></g><g id="n42x391"><circle cx="391.3" cy="861.3" r="5.3"/></g><g id="n43x392"><circle cx="392.7" cy="881.6" r="5.3"/></g><g id="n44x395"><circle cx="395.3" cy="901.9" r="5.3"/></g><g id="n45x399"><circle cx="399.3" cy="922.2" r="5.3"/></g><g id="n46x407"><circle cx="407.3" cy="942.4" r="5.3"/></g><g id="n47x407"><circle cx="407.3" cy="962.7" r="5.3"/></g><g id="n48x407"><circle cx="407.3" cy="983" r="5.3"/></g>
<g id="n43x258"><circle cx="258" cy="881.6" r="5.3"/></g><g id="n44x258"><circle cx="258" cy="901.9" r="5.3"/></g><g id="n45x258"><circle cx="258" cy="922.2" r="5.3"/></g><g id="n46x258"><circle cx="258" cy="942.4" r="5.3"/></g>
<g id="n45x224"><circle cx="224.7" cy="922.2" r="5.3"/></g><g id="n46x224"><circle cx="224.7" cy="942.4" r="5.3"/></g>
<g id="n47x224"><circle cx="224.7" cy="962.7" r="5.3"/></g><g id="n48x208"><circle cx="208.7" cy="983" r="5.3"/></g><g id="n49x208"><circle cx="208.7" cy="1003.2" r="5.3"/></g><g id="n50x208"><circle cx="208.7" cy="1023.5" r="5.3"/></g><g id="n51x208"><circle cx="208.7" cy="1043.8" r="5.3"/></g><g id="n52x208"><circle cx="208.7" cy="1064" r="5.3"/></g><g id="n53x208"><circle cx="208.7" cy="1084.3" r="5.3"/></g><g id="n54x208"><circle cx="208.7" cy="1104.6" r="5.3"/></g>
<g id="n45x324"><circle cx="324.7" cy="922.2" r="5.3"/></g><g id="n46x324"><circle cx="324.7" cy="942.4" r="5.3"/></g><g id="n47x324"><circle cx="324.7" cy="962.7" r="5.3"/></g><g id="n48x324"><circle cx="324.7" cy="983" r="5.3"/></g><g id="n49x324"><circle cx="324.7" cy="1003.2" r="5.3"/></g><g id="n50x324"><circle cx="324.7" cy="1023.5" r="5.3"/></g><g id="n51x324"><circle cx="324.7" cy="1043.8" r="5.3"/></g><g id="n52x324"><circle cx="324.7" cy="1064" r="5.3"/></g><g id="n53x324"><circle cx="324.7" cy="1084.3" r="5.3"/></g><g id="n54x324"><circle cx="324.7" cy="1104.6" r="5.3"/></g><g id="n55x324"><circle cx="324.7" cy="1124.9" r="5.3"/></g><g id="n56x324"><circle cx="324.7" cy="1145.1" r="5.3"/></g><g id="n57x330"><circle cx="330" cy="1165.4" r="5.3"/></g><g id="n58x330"><circle cx="330" cy="1185.7" r="5.3"/></g>
<g id="n47x358"><circle cx="358" cy="962.7" r="5.3"/></g><g id="n48x358"><circle cx="358" cy="983" r="5.3"/></g><g id="n49x358"><circle cx="358" cy="1003.2" r="5.3"/></g><g id="n50x358"><circle cx="358" cy="1023.5" r="5.3"/></g>
<g id="n51x358"><circle cx="358" cy="1043.8" r="5.3"/></g><g id="n52x358"><circle cx="358" cy="1064" r="5.3"/></g><g id="n53x358"><circle cx="358" cy="1084.3" r="5.3"/></g><g id="n54x358"><circle cx="358" cy="1104.6" r="5.3"/></g><g id="n55x358"><circle cx="358" cy="1124.9" r="5.3"/></g><g id="n56x358"><circle cx="358" cy="1145.1" r="5.3"/></g>
<g id="n47x258"><circle cx="258" cy="962.7" r="5.3"/></g><g id="n48x258"><circle cx="258" cy="983" r="5.3"/></g><g id="n49x258"><circle cx="258" cy="1003.2" r="5.3"/></g><g id="n50x258"><circle cx="258" cy="1023.5" r="5.3"/></g>
<g id="n51x241"><circle cx="241.7" cy="1043.8" r="5.3"/></g><g id="n52x241"><circle cx="241.7" cy="1064" r="5.3"/></g><g id="n53x241"><circle cx="241.7" cy="1084.3" r="5.3"/></g><g id="n54x241"><circle cx="241.7" cy="1104.6" r="5.3"/></g>
<g id="n51x275"><circle cx="275.3" cy="1043.8" r="5.3"/></g><g id="n52x275"><circle cx="275.3" cy="1064" r="5.3"/></g><g id="n53x275"><circle cx="275.3" cy="1084.3" r="5.3"/></g><g id="n54x275"><circle cx="275.3" cy="1104.6" r="5.3"/></g><g id="n55x275"><circle cx="275.3" cy="1124.9" r="5.3"/></g><g id="n56x275"><circle cx="275.3" cy="1145.1" r="5.3"/></g>
<g id="n55x241"><circle cx="241.7" cy="1124.9" r="5.3"/></g><g id="n56x237"><circle cx="237.7" cy="1145.1" r="5.3"/></g><g id="n57x230"><circle cx="230" cy="1165.4" r="5.3"/></g><g id="n58x230"><circle cx="230" cy="1185.7" r="5.3"/></g>
<g id="n57x263"><circle cx="263.3" cy="1165.4" r="5.3"/></g><g id="n58x263"><circle cx="263.3" cy="1185.7" r="5.3"/></g>
<g id="n57x296"><circle cx="296.7" cy="1165.4" r="5.3"/></g><g id="n58x296"><circle cx="296.7" cy="1185.7" r="5.3"/></g><g id="n59x296"><circle cx="296.7" cy="1205.9" r="5.3"/></g><g id="n60x296"><circle cx="296.7" cy="1226.2" r="5.3"/></g>
<g id="n47x446"><circle cx="446" cy="962.7" r="5.3"/></g><g id="n48x454"><circle cx="454" cy="983" r="5.3"/></g><g id="n49x458"><circle cx="458" cy="1003.2" r="5.3"/></g><g id="n50x458"><circle cx="458" cy="1023.5" r="5.3"/></g>
<g id="n49x391"><circle cx="391.3" cy="1003.2" r="5.3"/></g><g id="n50x391"><circle cx="391.3" cy="1023.5" r="5.3"/></g>
<g id="n49x424"><circle cx="424.7" cy="1003.2" r="5.3"/></g><g id="n50x424"><circle cx="424.7" cy="1023.5" r="5.3"/></g><g id="n51x424"><circle cx="424.7" cy="1043.8" r="5.3"/></g><g id="n52x424"><circle cx="424.7" cy="1064" r="5.3"/></g><g id="n53x424"><circle cx="424.7" cy="1084.3" r="5.3"/></g><g id="n54x424"><circle cx="424.7" cy="1104.6" r="5.3"/></g>
<g id="n51x391"><circle cx="391.3" cy="1043.8" r="5.3"/></g><g id="n52x391"><circle cx="391.3" cy="1064" r="5.3"/></g>
<g id="n51x458"><circle cx="458" cy="1043.8" r="5.3"/></g><g id="n52x458"><circle cx="458" cy="1064" r="5.3"/></g>
<g id="n55x407"><circle cx="407.3" cy="1124.9" r="5.3"/></g><g id="n56x407"><circle cx="407.3" cy="1145.1" r="5.3"/></g>
<g id="n55x441"><circle cx="441" cy="1124.9" r="5.3"/></g><g id="n56x441"><circle cx="441" cy="1145.1" r="5.3"/></g>
<g id="n59x196"><circle cx="196.7" cy="1205.9" r="5.3"/></g><g id="n60x179"><circle cx="179.3" cy="1226.2" r="5.3"/></g><g id="n61x179"><circle cx="179.3" cy="1246.5" r="5.3"/></g><g id="n62x132"><circle cx="132.7" cy="1266.7" r="5.3"/></g><g id="n63x132"><circle cx="132.7" cy="1287" r="5.3"/></g><g id="n64x132"><circle cx="132.7" cy="1307.3" r="5.3"/></g><g id="n65x132"><circle cx="132.7" cy="1327.6" r="5.3"/></g><g id="n66x132"><circle cx="132.7" cy="1347.8" r="5.3"/></g>
<g id="n63x99"><circle cx="99.3" cy="1287" r="5.3"/></g><g id="n64x99"><circle cx="99.3" cy="1307.3" r="5.3"/></g><g id="n65x99"><circle cx="99.3" cy="1327.6" r="5.3"/></g><g id="n66x99"><circle cx="99.3" cy="1347.8" r="5.3"/></g>
<g id="n67x83"><circle cx="83.3" cy="1368.1" r="5.3"/></g><g id="n68x82"><circle cx="82" cy="1388.4" r="5.3"/></g><g id="n69x74"><circle cx="74" cy="1408.6" r="5.3"/></g><g id="n70x70"><circle cx="70" cy="1428.9" r="5.3"/></g><g id="n71x70"><circle cx="70" cy="1449.2" r="5.3"/></g><g id="n72x70"><circle cx="70" cy="1469.4" r="5.3"/></g>
<g id="n71x36"><circle cx="36.7" cy="1449.2" r="5.3"/></g><g id="n72x36"><circle cx="36.7" cy="1469.4" r="5.3"/></g>
<g id="n59x247"><circle cx="247.3" cy="1205.9" r="5.3"/></g><g id="n60x247"><circle cx="247.3" cy="1226.2" r="5.3"/></g>
<g id="n61x228"><circle cx="228.7" cy="1246.5" r="5.3"/></g><g id="n62x226"><circle cx="226" cy="1266.7" r="5.3"/></g><g id="n63x224"><circle cx="224.7" cy="1287" r="5.3"/></g><g id="n64x224"><circle cx="224.7" cy="1307.3" r="5.3"/></g><g id="n65x224"><circle cx="224.7" cy="1327.6" r="5.3"/></g><g id="n66x224"><circle cx="224.7" cy="1347.8" r="5.3"/></g>
<g id="n65x166"><circle cx="166" cy="1327.6" r="5.3"/></g><g id="n66x166"><circle cx="166" cy="1347.8" r="5.3"/></g><g id="n67x166"><circle cx="166" cy="1368.1" r="5.3"/></g><g id="n68x166"><circle cx="166" cy="1388.4" r="5.3"/></g>
<g id="n67x132"><circle cx="132.7" cy="1368.1" r="5.3"/></g><g id="n68x132"><circle cx="132.7" cy="1388.4" r="5.3"/></g>
<g id="n69x123"><circle cx="123.3" cy="1408.6" r="5.3"/></g><g id="n70x119"><circle cx="119.3" cy="1428.9" r="5.3"/></g><g id="n71x103"><circle cx="103.3" cy="1449.2" r="5.3"/></g><g id="n72x103"><circle cx="103.3" cy="1469.4" r="5.3"/></g>
<g id="n67x206"><circle cx="206" cy="1368.1" r="5.3"/></g><g id="n68x202"><circle cx="202" cy="1388.4" r="5.3"/></g><g id="n69x202"><circle cx="202" cy="1408.6" r="5.3"/></g><g id="n70x202"><circle cx="202" cy="1428.9" r="5.3"/></g><g id="n71x203"><circle cx="203.3" cy="1449.2" r="5.3"/></g><g id="n72x203"><circle cx="203.3" cy="1469.4" r="5.3"/></g>
<g id="n69x164"><circle cx="164.7" cy="1408.6" r="5.3"/></g><g id="n70x164"><circle cx="164.7" cy="1428.9" r="5.3"/></g><g id="n71x136"><circle cx="136.7" cy="1449.2" r="5.3"/></g><g id="n72x136"><circle cx="136.7" cy="1469.4" r="5.3"/></g>
<g id="n71x170"><circle cx="170" cy="1449.2" r="5.3"/></g><g id="n72x170"><circle cx="170" cy="1469.4" r="5.3"/></g>
<g id="n73x68"><circle cx="68.7" cy="1489.7" r="5.3"/></g><g id="n74x52"><circle cx="52.7" cy="1510" r="5.3"/></g><g id="n75x44"><circle cx="44.7" cy="1530.3" r="5.3"/></g><g id="n76x40"><circle cx="40.7" cy="1550.5" r="5.3"/></g>
<g id="n73x135"><circle cx="135.3" cy="1489.7" r="5.3"/></g><g id="n74x118"><circle cx="118" cy="1510" r="5.3"/></g><g id="n75x91"><circle cx="91.3" cy="1530.3" r="5.3"/></g><g id="n76x74"><circle cx="74" cy="1550.5" r="5.3"/></g>
<g id="n73x168"><circle cx="168.7" cy="1489.7" r="5.3"/></g><g id="n74x164"><circle cx="164.7" cy="1510" r="5.3"/></g><g id="n75x162"><circle cx="162" cy="1530.3" r="5.3"/></g><g id="n76x160"><circle cx="160.7" cy="1550.5" r="5.3"/></g><g id="n77x160"><circle cx="160.7" cy="1570.8" r="5.3"/></g><g id="n78x160"><circle cx="160.7" cy="1591.1" r="5.3"/></g>
<g id="n67x242"><circle cx="242" cy="1368.1" r="5.3"/></g><g id="n68x242"><circle cx="242" cy="1388.4" r="5.3"/></g><g id="n69x250"><circle cx="250" cy="1408.6" r="5.3"/></g><g id="n70x251"><circle cx="251.3" cy="1428.9" r="5.3"/></g><g id="n71x252"><circle cx="252.7" cy="1449.2" r="5.3"/></g><g id="n72x260"><circle cx="260.7" cy="1469.4" r="5.3"/></g><g id="n73x260"><circle cx="260.7" cy="1489.7" r="5.3"/></g><g id="n74x260"><circle cx="260.7" cy="1510" r="5.3"/></g><g id="n75x260"><circle cx="260.7" cy="1530.3" r="5.3"/></g><g id="n76x260"><circle cx="260.7" cy="1550.5" r="5.3"/></g><g id="n77x260"><circle cx="260.7" cy="1570.8" r="5.3"/></g><g id="n78x260"><circle cx="260.7" cy="1591.1" r="5.3"/></g><g id="n79x260"><circle cx="260.7" cy="1611.3" r="5.3"/></g><g id="n80x260"><circle cx="260.7" cy="1631.6" r="5.3"/></g><g id="n81x260"><circle cx="260.7" cy="1651.9" r="5.3"/></g><g id="n82x260"><circle cx="260.7" cy="1672.1" r="5.3"/></g>
<g id="n73x227"><circle cx="227.3" cy="1489.7" r="5.3"/></g><g id="n74x227"><circle cx="227.3" cy="1510" r="5.3"/></g>
<g id="n75x227"><circle cx="227.3" cy="1530.3" r="5.3"/></g><g id="n76x227"><circle cx="227.3" cy="1550.5" r="5.3"/></g>
<g id="n75x294"><circle cx="294" cy="1530.3" r="5.3"/></g><g id="n76x294"><circle cx="294" cy="1550.5" r="5.3"/></g>
<g id="n79x227"><circle cx="227.3" cy="1611.3" r="5.3"/></g><g id="n80x227"><circle cx="227.3" cy="1631.6" r="5.3"/></g><g id="n81x227"><circle cx="227.3" cy="1651.9" r="5.3"/></g><g id="n82x227"><circle cx="227.3" cy="1672.1" r="5.3"/></g>
<g id="n81x294"><circle cx="294" cy="1651.9" r="5.3"/></g><g id="n82x294"><circle cx="294" cy="1672.1" r="5.3"/></g>
<g id="n73x310"><circle cx="310" cy="1489.7" r="5.3"/></g><g id="n74x319"><circle cx="319.3" cy="1510" r="5.3"/></g><g id="n75x327"><circle cx="327.3" cy="1530.3" r="5.3"/></g><g id="n76x327"><circle cx="327.3" cy="1550.5" r="5.3"/></g><g id="n77x327"><circle cx="327.3" cy="1570.8" r="5.3"/></g><g id="n78x327"><circle cx="327.3" cy="1591.1" r="5.3"/></g><g id="n79x327"><circle cx="327.3" cy="1611.3" r="5.3"/></g><g id="n80x327"><circle cx="327.3" cy="1631.6" r="5.3"/></g><g id="n81x327"><circle cx="327.3" cy="1651.9" r="5.3"/></g><g id="n82x327"><circle cx="327.3" cy="1672.1" r="5.3"/></g><g id="n83x327"><circle cx="327.3" cy="1692.4" r="5.3"/></g><g id="n84x327"><circle cx="327.3" cy="1712.7" r="5.3"/></g><g id="n85x327"><circle cx="327.3" cy="1733" r="5.3"/></g><g id="n86x327"><circle cx="327.3" cy="1753.2" r="5.3"/></g><g id="n87x327"><circle cx="327.3" cy="1773.5" r="5.3"/></g><g id="n88x327"><circle cx="327.3" cy="1793.8" r="5.3"/></g>
<g id="n81x360"><circle cx="360.7" cy="1651.9" r="5.3"/></g><g id="n82x360"><circle cx="360.7" cy="1672.1" r="5.3"/></g>
<g id="n83x260"><circle cx="260.7" cy="1692.4" r="5.3"/></g><g id="n84x260"><circle cx="260.7" cy="1712.7" r="5.3"/></g>
<g id="n83x294"><circle cx="294" cy="1692.4" r="5.3"/></g><g id="n84x294"><circle cx="294" cy="1712.7" r="5.3"/></g>
<g id="n77x32"><circle cx="32.7" cy="1570.8" r="5.3"/></g><g id="n78x30"><circle cx="30" cy="1591.1" r="5.3"/></g>
<g id="n77x72"><circle cx="72.7" cy="1570.8" r="5.3"/></g><g id="n78x63"><circle cx="63.3" cy="1591.1" r="5.3"/></g><g id="n79x62"><circle cx="62" cy="1611.3" r="5.3"/></g><g id="n80x60"><circle cx="60.7" cy="1631.6" r="5.3"/></g><g id="n81x60"><circle cx="60.7" cy="1651.9" r="5.3"/></g><g id="n82x60"><circle cx="60.7" cy="1672.1" r="5.3"/></g>
<g id="n79x27"><circle cx="27.3" cy="1611.3" r="5.3"/></g><g id="n80x27"><circle cx="27.3" cy="1631.6" r="5.3"/></g>
<g id="n81x27"><circle cx="27.3" cy="1651.9" r="5.3"/></g><g id="n82x27"><circle cx="27.3" cy="1672.1" r="5.3"/></g><g id="n83x27"><circle cx="27.3" cy="1692.4" r="5.3"/></g><g id="n84x27"><circle cx="27.3" cy="1712.7" r="5.3"/></g>
<g id="n83x60"><circle cx="60.7" cy="1692.4" r="5.3"/></g><g id="n84x60"><circle cx="60.7" cy="1712.7" r="5.3"/></g><g id="n85x60"><circle cx="60.7" cy="1733" r="5.3"/></g><g id="n86x60"><circle cx="60.7" cy="1753.2" r="5.3"/></g>
<g id="n87x48"><circle cx="48.7" cy="1773.5" r="5.3"/></g><g id="n88x48"><circle cx="48.7" cy="1793.8" r="5.3"/></g>
<g id="n87x82"><circle cx="82" cy="1773.5" r="5.3"/></g><g id="n88x82"><circle cx="82" cy="1793.8" r="5.3"/></g>
<g id="n89x30"><circle cx="30" cy="1814" r="5.3"/></g><g id="n90x30"><circle cx="30" cy="1834.3" r="5.3"/></g><g id="n91x30"><circle cx="30" cy="1854.6" r="5.3"/></g><g id="n92x30"><circle cx="30" cy="1874.8" r="5.3"/></g><g id="n93x30"><circle cx="30" cy="1895.1" r="5.3"/></g><g id="n94x30"><circle cx="30" cy="1915.4" r="5.3"/></g><g id="n95x30"><circle cx="30" cy="1935.7" r="5.3"/></g><g id="n96x30"><circle cx="30" cy="1955.9" r="5.3"/></g>
<g id="n97x14"><circle cx="14" cy="1976.2" r="5.3"/></g><g id="n98x14"><circle cx="14" cy="1996.5" r="5.3"/></g><g id="n99x10"><circle cx="10" cy="2016.7" r="5.3"/></g><g id="n100x10"><circle cx="10" cy="2037" r="5.3"/></g><g id="n101x10"><circle cx="10" cy="2057.3" r="5.3"/></g><g id="n102x10"><circle cx="10" cy="2077.5" r="5.3"/></g>
<g id="n97x47"><circle cx="47.7" cy="1976.2" r="5.3"/></g><g id="n98x47"><circle cx="47.7" cy="1996.5" r="5.3"/></g>
<g id="n99x43"><circle cx="43.3" cy="2016.7" r="5.3"/></g><g id="n100x43"><circle cx="43.3" cy="2037" r="5.3"/></g>
<g id="n89x63"><circle cx="63.3" cy="1814" r="5.3"/></g><g id="n90x63"><circle cx="63.3" cy="1834.3" r="5.3"/></g><g id="n91x63"><circle cx="63.3" cy="1854.6" r="5.3"/></g><g id="n92x63"><circle cx="63.3" cy="1874.8" r="5.3"/></g>
<g id="n91x96"><circle cx="96.7" cy="1854.6" r="5.3"/></g><g id="n92x96"><circle cx="96.7" cy="1874.8" r="5.3"/></g>
<g id="n93x71"><circle cx="71.3" cy="1895.1" r="5.3"/></g><g id="n94x71"><circle cx="71.3" cy="1915.4" r="5.3"/></g><g id="n95x71"><circle cx="71.3" cy="1935.7" r="5.3"/></g><g id="n96x71"><circle cx="71.3" cy="1955.9" r="5.3"/></g>
<g id="n93x104"><circle cx="104.7" cy="1895.1" r="5.3"/></g><g id="n94x104"><circle cx="104.7" cy="1915.4" r="5.3"/></g><g id="n95x104"><circle cx="104.7" cy="1935.7" r="5.3"/></g><g id="n96x104"><circle cx="104.7" cy="1955.9" r="5.3"/></g><g id="n97x104"><circle cx="104.7" cy="1976.2" r="5.3"/></g><g id="n98x104"><circle cx="104.7" cy="1996.5" r="5.3"/></g>
<g id="n99x90"><circle cx="90" cy="2016.7" r="5.3"/></g><g id="n100x90"><circle cx="90" cy="2037" r="5.3"/></g><g id="n101x90"><circle cx="90" cy="2057.3" r="5.3"/></g><g id="n102x90"><circle cx="90" cy="2077.5" r="5.3"/></g>
<g id="n99x123"><circle cx="123.3" cy="2016.7" r="5.3"/></g><g id="n100x123"><circle cx="123.3" cy="2037" r="5.3"/></g><g id="n101x123"><circle cx="123.3" cy="2057.3" r="5.3"/></g><g id="n102x123"><circle cx="123.3" cy="2077.5" r="5.3"/></g>
<g id="n103x72"><circle cx="72.7" cy="2097.8" r="5.3"/></g><g id="n104x72"><circle cx="72.7" cy="2118.1" r="5.3"/></g>
<g id="n103x106"><circle cx="106" cy="2097.8" r="5.3"/></g><g id="n104x106"><circle cx="106" cy="2118.1" r="5.3"/></g>
<g id="n105x88"><circle cx="88.7" cy="2138.4" r="5.3"/></g><g id="n106x88"><circle cx="88.7" cy="2158.6" r="5.3"/></g>
<g id="n105x122"><circle cx="122" cy="2138.4" r="5.3"/></g><g id="n106x122"><circle cx="122" cy="2158.6" r="5.3"/></g>
<g id="n79x127"><circle cx="127.3" cy="1611.3" r="5.3"/></g><g id="n80x127"><circle cx="127.3" cy="1631.6" r="5.3"/></g><g id="n81x127"><circle cx="127.3" cy="1651.9" r="5.3"/></g><g id="n82x127"><circle cx="127.3" cy="1672.1" r="5.3"/></g>
<g id="n79x160"><circle cx="160.7" cy="1611.3" r="5.3"/></g><g id="n80x160"><circle cx="160.7" cy="1631.6" r="5.3"/></g><g id="n81x160"><circle cx="160.7" cy="1651.9" r="5.3"/></g><g id="n82x160"><circle cx="160.7" cy="1672.1" r="5.3"/></g>
<g id="n79x194"><circle cx="194" cy="1611.3" r="5.3"/></g><g id="n80x194"><circle cx="194" cy="1631.6" r="5.3"/></g><g id="n81x194"><circle cx="194" cy="1651.9" r="5.3"/></g><g id="n82x194"><circle cx="194" cy="1672.1" r="5.3"/></g>
<g id="n81x94"><circle cx="94" cy="1651.9" r="5.3"/></g><g id="n82x94"><circle cx="94" cy="1672.1" r="5.3"/></g>
<g id="n83x119"><circle cx="119.3" cy="1692.4" r="5.3"/></g><g id="n84x119"><circle cx="119.3" cy="1712.7" r="5.3"/></g><g id="n85x119"><circle cx="119.3" cy="1733" r="5.3"/></g><g id="n86x119"><circle cx="119.3" cy="1753.2" r="5.3"/></g>
<g id="n83x152"><circle cx="152.7" cy="1692.4" r="5.3"/></g><g id="n84x152"><circle cx="152.7" cy="1712.7" r="5.3"/></g><g id="n85x152"><circle cx="152.7" cy="1733" r="5.3"/></g><g id="n86x152"><circle cx="152.7" cy="1753.2" r="5.3"/></g><g id="n87x152"><circle cx="152.7" cy="1773.5" r="5.3"/></g><g id="n88x152"><circle cx="152.7" cy="1793.8" r="5.3"/></g><g id="n89x152"><circle cx="152.7" cy="1814" r="5.3"/></g><g id="n90x152"><circle cx="152.7" cy="1834.3" r="5.3"/></g><g id="n91x152"><circle cx="152.7" cy="1854.6" r="5.3"/></g><g id="n92x152"><circle cx="152.7" cy="1874.8" r="5.3"/></g><g id="n93x152"><circle cx="152.7" cy="1895.1" r="5.3"/></g><g id="n94x152"><circle cx="152.7" cy="1915.4" r="5.3"/></g>
<g id="n85x186"><circle cx="186" cy="1733" r="5.3"/></g><g id="n86x186"><circle cx="186" cy="1753.2" r="5.3"/></g><g id="n87x186"><circle cx="186" cy="1773.5" r="5.3"/></g><g id="n88x186"><circle cx="186" cy="1793.8" r="5.3"/></g><g id="n89x186"><circle cx="186" cy="1814" r="5.3"/></g><g id="n90x186"><circle cx="186" cy="1834.3" r="5.3"/></g><g id="n91x186"><circle cx="186" cy="1854.6" r="5.3"/></g><g id="n92x186"><circle cx="186" cy="1874.8" r="5.3"/></g><g id="n93x186"><circle cx="186" cy="1895.1" r="5.3"/></g><g id="n94x186"><circle cx="186" cy="1915.4" r="5.3"/></g><g id="n95x186"><circle cx="186" cy="1935.7" r="5.3"/></g><g id="n96x186"><circle cx="186" cy="1955.9" r="5.3"/></g><g id="n97x186"><circle cx="186" cy="1976.2" r="5.3"/></g><g id="n98x186"><circle cx="186" cy="1996.5" r="5.3"/></g>
<g id="n87x119"><circle cx="119.3" cy="1773.5" r="5.3"/></g><g id="n88x119"><circle cx="119.3" cy="1793.8" r="5.3"/></g><g id="n89x119"><circle cx="119.3" cy="1814" r="5.3"/></g><g id="n90x119"><circle cx="119.3" cy="1834.3" r="5.3"/></g>
<g id="n87x228"><circle cx="228.7" cy="1773.5" r="5.3"/></g><g id="n88x236"><circle cx="236.7" cy="1793.8" r="5.3"/></g><g id="n89x236"><circle cx="236.7" cy="1814" r="5.3"/></g><g id="n90x236"><circle cx="236.7" cy="1834.3" r="5.3"/></g>
<g id="n89x270"><circle cx="270" cy="1814" r="5.3"/></g><g id="n90x270"><circle cx="270" cy="1834.3" r="5.3"/></g>
<g id="n91x219"><circle cx="219.3" cy="1854.6" r="5.3"/></g><g id="n92x219"><circle cx="219.3" cy="1874.8" r="5.3"/></g>
<g id="n91x252"><circle cx="252.7" cy="1854.6" r="5.3"/></g><g id="n92x252"><circle cx="252.7" cy="1874.8" r="5.3"/></g><g id="n93x226"><circle cx="226" cy="1895.1" r="5.3"/></g><g id="n94x226"><circle cx="226" cy="1915.4" r="5.3"/></g>
<g id="n91x290"><circle cx="290" cy="1854.6" r="5.3"/></g><g id="n92x291"><circle cx="291.3" cy="1874.8" r="5.3"/></g>
<g id="n93x259"><circle cx="259.3" cy="1895.1" r="5.3"/></g><g id="n94x259"><circle cx="259.3" cy="1915.4" r="5.3"/></g>
<g id="n93x292"><circle cx="292.7" cy="1895.1" r="5.3"/></g><g id="n94x292"><circle cx="292.7" cy="1915.4" r="5.3"/></g><g id="n95x292"><circle cx="292.7" cy="1935.7" r="5.3"/></g><g id="n96x292"><circle cx="292.7" cy="1955.9" r="5.3"/></g>
<g id="n95x259"><circle cx="259.3" cy="1935.7" r="5.3"/></g><g id="n96x259"><circle cx="259.3" cy="1955.9" r="5.3"/></g><g id="n97x259"><circle cx="259.3" cy="1976.2" r="5.3"/></g><g id="n98x259"><circle cx="259.3" cy="1996.5" r="5.3"/></g>
<g id="n99x242"><circle cx="242" cy="2016.7" r="5.3"/></g><g id="n100x242"><circle cx="242" cy="2037" r="5.3"/></g><g id="n101x242"><circle cx="242" cy="2057.3" r="5.3"/></g><g id="n102x242"><circle cx="242" cy="2077.5" r="5.3"/></g>
<g id="n99x275"><circle cx="275.3" cy="2016.7" r="5.3"/></g><g id="n100x275"><circle cx="275.3" cy="2037" r="5.3"/></g><g id="n101x275"><circle cx="275.3" cy="2057.3" r="5.3"/></g><g id="n102x275"><circle cx="275.3" cy="2077.5" r="5.3"/></g>
<g id="n101x308"><circle cx="308.7" cy="2057.3" r="5.3"/></g><g id="n102x308"><circle cx="308.7" cy="2077.5" r="5.3"/></g>
<g id="n103x257"><circle cx="257.7" cy="2097.8" r="5.3"/></g><g id="n104x257"><circle cx="257.7" cy="2118.1" r="5.3"/></g>
<g id="n103x291"><circle cx="291.3" cy="2097.8" r="5.3"/></g><g id="n104x291"><circle cx="291.3" cy="2118.1" r="5.3"/></g>
<g id="n105x240"><circle cx="240.7" cy="2138.4" r="5.3"/></g><g id="n106x240"><circle cx="240.7" cy="2158.6" r="5.3"/></g><g id="n107x240"><circle cx="240.7" cy="2178.9" r="5.3"/></g><g id="n108x240"><circle cx="240.7" cy="2199.2" r="5.3"/></g><g id="n109x240"><circle cx="240.7" cy="2219.4" r="5.3"/></g><g id="n110x240"><circle cx="240.7" cy="2239.7" r="5.3"/></g><g id="n111x240"><circle cx="240.7" cy="2260" r="5.3"/></g><g id="n112x240"><circle cx="240.7" cy="2280.2" r="5.3"/></g>
<g id="n107x207"><circle cx="207.3" cy="2178.9" r="5.3"/></g><g id="n108x207"><circle cx="207.3" cy="2199.2" r="5.3"/></g>
<g id="n109x207"><circle cx="207.3" cy="2219.4" r="5.3"/></g><g id="n110x207"><circle cx="207.3" cy="2239.7" r="5.3"/></g><g id="n111x207"><circle cx="207.3" cy="2260" r="5.3"/></g><g id="n112x207"><circle cx="207.3" cy="2280.2" r="5.3"/></g>
<g id="n113x191"><circle cx="191.3" cy="2300.5" r="5.3"/></g><g id="n114x191"><circle cx="191.3" cy="2320.8" r="5.3"/></g>
<g id="n113x224"><circle cx="224.7" cy="2300.5" r="5.3"/></g><g id="n114x224"><circle cx="224.7" cy="2320.8" r="5.3"/></g>
<g id="n105x274"><circle cx="274" cy="2138.4" r="5.3"/></g><g id="n106x274"><circle cx="274" cy="2158.6" r="5.3"/></g><g id="n107x274"><circle cx="274" cy="2178.9" r="5.3"/></g><g id="n108x274"><circle cx="274" cy="2199.2" r="5.3"/></g><g id="n109x274"><circle cx="274" cy="2219.4" r="5.3"/></g><g id="n110x274"><circle cx="274" cy="2239.7" r="5.3"/></g><g id="n111x274"><circle cx="274" cy="2260" r="5.3"/></g><g id="n112x274"><circle cx="274" cy="2280.2" r="5.3"/></g>
<g id="n107x307"><circle cx="307.3" cy="2178.9" r="5.3"/></g><g id="n108x307"><circle cx="307.3" cy="2199.2" r="5.3"/></g>
<g id="n109x307"><circle cx="307.3" cy="2219.4" r="5.3"/></g><g id="n110x307"><circle cx="307.3" cy="2239.7" r="5.3"/></g>
<g id="n93x326"><circle cx="326" cy="1895.1" r="5.3"/></g><g id="n94x326"><circle cx="326" cy="1915.4" r="5.3"/></g><g id="n95x326"><circle cx="326" cy="1935.7" r="5.3"/></g><g id="n96x326"><circle cx="326" cy="1955.9" r="5.3"/></g>
<g id="n95x359"><circle cx="359.3" cy="1935.7" r="5.3"/></g><g id="n96x359"><circle cx="359.3" cy="1955.9" r="5.3"/></g>
<g id="n97x352"><circle cx="352.7" cy="1976.2" r="5.3"/></g><g id="n98x352"><circle cx="352.7" cy="1996.5" r="5.3"/></g>
<g id="n97x386"><circle cx="386" cy="1976.2" r="5.3"/></g><g id="n98x386"><circle cx="386" cy="1996.5" r="5.3"/></g><g id="n99x386"><circle cx="386" cy="2016.7" r="5.3"/></g><g id="n100x386"><circle cx="386" cy="2037" r="5.3"/></g>
<g id="n61x263"><circle cx="263.3" cy="1246.5" r="5.3"/></g><g id="n62x264"><circle cx="264.3" cy="1266.7" r="5.3"/></g><g id="n63x275"><circle cx="275.3" cy="1287" r="5.3"/></g><g id="n64x280"><circle cx="280.7" cy="1307.3" r="5.3"/></g><g id="n65x280"><circle cx="280.7" cy="1327.6" r="5.3"/></g><g id="n66x280"><circle cx="280.7" cy="1347.8" r="5.3"/></g>
<g id="n65x343"><circle cx="343.3" cy="1327.6" r="5.3"/></g><g id="n66x343"><circle cx="343.3" cy="1347.8" r="5.3"/></g>
<g id="n67x339"><circle cx="339.3" cy="1368.1" r="5.3"/></g><g id="n68x339"><circle cx="339.3" cy="1388.4" r="5.3"/></g>
<g id="n67x372"><circle cx="372.7" cy="1368.1" r="5.3"/></g><g id="n68x372"><circle cx="372.7" cy="1388.4" r="5.3"/></g><g id="n69x372"><circle cx="372.7" cy="1408.6" r="5.3"/></g><g id="n70x372"><circle cx="372.7" cy="1428.9" r="5.3"/></g><g id="n71x372"><circle cx="372.7" cy="1449.2" r="5.3"/></g><g id="n72x372"><circle cx="372.7" cy="1469.4" r="5.3"/></g>
<g id="n67x406"><circle cx="406" cy="1368.1" r="5.3"/></g><g id="n68x406"><circle cx="406" cy="1388.4" r="5.3"/></g><g id="n69x406"><circle cx="406" cy="1408.6" r="5.3"/></g><g id="n70x406"><circle cx="406" cy="1428.9" r="5.3"/></g>
<g id="n61x316"><circle cx="316.7" cy="1246.5" r="5.3"/></g><g id="n62x336"><circle cx="336.7" cy="1266.7" r="5.3"/></g><g id="n63x336"><circle cx="336.7" cy="1287" r="5.3"/></g><g id="n64x336"><circle cx="336.7" cy="1307.3" r="5.3"/></g>
<g id="n63x382"><circle cx="382" cy="1287" r="5.3"/></g><g id="n64x392"><circle cx="392.7" cy="1307.3" r="5.3"/></g><g id="n65x392"><circle cx="392.7" cy="1327.6" r="5.3"/></g><g id="n66x392"><circle cx="392.7" cy="1347.8" r="5.3"/></g>
<g id="n65x430"><circle cx="430" cy="1327.6" r="5.3"/></g><g id="n66x434"><circle cx="434" cy="1347.8" r="5.3"/></g><g id="n67x439"><circle cx="439.3" cy="1368.1" r="5.3"/></g><g id="n68x439"><circle cx="439.3" cy="1388.4" r="5.3"/></g>
<g id="n69x515"><circle cx="515.3" cy="1408.6" r="5.3"/></g><g id="n70x592"><circle cx="592.7" cy="1428.9" r="5.3"/></g><g id="n71x592"><circle cx="592.7" cy="1449.2" r="5.3"/></g><g id="n72x592"><circle cx="592.7" cy="1469.4" r="5.3"/></g>
<g id="n71x634"><circle cx="634" cy="1449.2" r="5.3"/></g><g id="n72x638"><circle cx="638" cy="1469.4" r="5.3"/></g><g id="n73x643"><circle cx="643.3" cy="1489.7" r="5.3"/></g><g id="n74x643"><circle cx="643.3" cy="1510" r="5.3"/></g>
<g id="n73x576"><circle cx="576.7" cy="1489.7" r="5.3"/></g><g id="n74x576"><circle cx="576.7" cy="1510" r="5.3"/></g><g id="n75x576"><circle cx="576.7" cy="1530.3" r="5.3"/></g><g id="n76x576"><circle cx="576.7" cy="1550.5" r="5.3"/></g>
<g id="n73x610"><circle cx="610" cy="1489.7" r="5.3"/></g><g id="n74x610"><circle cx="610" cy="1510" r="5.3"/></g><g id="n75x610"><circle cx="610" cy="1530.3" r="5.3"/></g><g id="n76x610"><circle cx="610" cy="1550.5" r="5.3"/></g>
<g id="n71x408"><circle cx="408.7" cy="1449.2" r="5.3"/></g><g id="n72x458"><circle cx="458" cy="1469.4" r="5.3"/></g><g id="n73x483"><circle cx="483.3" cy="1489.7" r="5.3"/></g><g id="n74x486"><circle cx="486" cy="1510" r="5.3"/></g><g id="n75x487"><circle cx="487.3" cy="1530.3" r="5.3"/></g><g id="n76x494"><circle cx="494" cy="1550.5" r="5.3"/></g><g id="n77x494"><circle cx="494" cy="1570.8" r="5.3"/></g><g id="n78x494"><circle cx="494" cy="1591.1" r="5.3"/></g><g id="n79x494"><circle cx="494" cy="1611.3" r="5.3"/></g><g id="n80x494"><circle cx="494" cy="1631.6" r="5.3"/></g>
<g id="n77x527"><circle cx="527.3" cy="1570.8" r="5.3"/></g><g id="n78x527"><circle cx="527.3" cy="1591.1" r="5.3"/></g><g id="n79x527"><circle cx="527.3" cy="1611.3" r="5.3"/></g><g id="n80x527"><circle cx="527.3" cy="1631.6" r="5.3"/></g>
<g id="n73x360"><circle cx="360.7" cy="1489.7" r="5.3"/></g><g id="n74x360"><circle cx="360.7" cy="1510" r="5.3"/></g><g id="n75x360"><circle cx="360.7" cy="1530.3" r="5.3"/></g><g id="n76x360"><circle cx="360.7" cy="1550.5" r="5.3"/></g>
<g id="n73x394"><circle cx="394" cy="1489.7" r="5.3"/></g><g id="n74x394"><circle cx="394" cy="1510" r="5.3"/></g><g id="n75x394"><circle cx="394" cy="1530.3" r="5.3"/></g><g id="n76x394"><circle cx="394" cy="1550.5" r="5.3"/></g><g id="n77x394"><circle cx="394" cy="1570.8" r="5.3"/></g><g id="n78x394"><circle cx="394" cy="1591.1" r="5.3"/></g><g id="n79x394"><circle cx="394" cy="1611.3" r="5.3"/></g><g id="n80x394"><circle cx="394" cy="1631.6" r="5.3"/></g><g id="n81x394"><circle cx="394" cy="1651.9" r="5.3"/></g><g id="n82x394"><circle cx="394" cy="1672.1" r="5.3"/></g>
<g id="n75x427"><circle cx="427.3" cy="1530.3" r="5.3"/></g><g id="n76x427"><circle cx="427.3" cy="1550.5" r="5.3"/></g><g id="n77x427"><circle cx="427.3" cy="1570.8" r="5.3"/></g><g id="n78x427"><circle cx="427.3" cy="1591.1" r="5.3"/></g><g id="n79x436"><circle cx="436.7" cy="1611.3" r="5.3"/></g><g id="n80x452"><circle cx="452.7" cy="1631.6" r="5.3"/></g><g id="n81x456"><circle cx="456.7" cy="1651.9" r="5.3"/></g><g id="n82x460"><circle cx="460.7" cy="1672.1" r="5.3"/></g><g id="n83x460"><circle cx="460.7" cy="1692.4" r="5.3"/></g><g id="n84x460"><circle cx="460.7" cy="1712.7" r="5.3"/></g><g id="n85x460"><circle cx="460.7" cy="1733" r="5.3"/></g><g id="n86x460"><circle cx="460.7" cy="1753.2" r="5.3"/></g><g id="n87x460"><circle cx="460.7" cy="1773.5" r="5.3"/></g><g id="n88x460"><circle cx="460.7" cy="1793.8" r="5.3"/></g>
<g id="n77x460"><circle cx="460.7" cy="1570.8" r="5.3"/></g><g id="n78x460"><circle cx="460.7" cy="1591.1" r="5.3"/></g>
<g id="n83x360"><circle cx="360.7" cy="1692.4" r="5.3"/></g><g id="n84x360"><circle cx="360.7" cy="1712.7" r="5.3"/></g>
<g id="n83x394"><circle cx="394" cy="1692.4" r="5.3"/></g><g id="n84x394"><circle cx="394" cy="1712.7" r="5.3"/></g><g id="n85x394"><circle cx="394" cy="1733" r="5.3"/></g><g id="n86x394"><circle cx="394" cy="1753.2" r="5.3"/></g>
<g id="n83x427"><circle cx="427.3" cy="1692.4" r="5.3"/></g><g id="n84x427"><circle cx="427.3" cy="1712.7" r="5.3"/></g><g id="n85x427"><circle cx="427.3" cy="1733" r="5.3"/></g><g id="n86x427"><circle cx="427.3" cy="1753.2" r="5.3"/></g>
<g id="n83x494"><circle cx="494" cy="1692.4" r="5.3"/></g><g id="n84x494"><circle cx="494" cy="1712.7" r="5.3"/></g><g id="n85x494"><circle cx="494" cy="1733" r="5.3"/></g><g id="n86x494"><circle cx="494" cy="1753.2" r="5.3"/></g>
<g id="n89x427"><circle cx="427.3" cy="1814" r="5.3"/></g><g id="n90x427"><circle cx="427.3" cy="1834.3" r="5.3"/></g>
<g id="n89x460"><circle cx="460.7" cy="1814" r="5.3"/></g><g id="n90x460"><circle cx="460.7" cy="1834.3" r="5.3"/></g>
<g id="n89x494"><circle cx="494" cy="1814" r="5.3"/></g><g id="n90x494"><circle cx="494" cy="1834.3" r="5.3"/></g><g id="n91x494"><circle cx="494" cy="1854.6" r="5.3"/></g><g id="n92x494"><circle cx="494" cy="1874.8" r="5.3"/></g>
<g id="n91x407"><circle cx="407.3" cy="1854.6" r="5.3"/></g><g id="n92x407"><circle cx="407.3" cy="1874.8" r="5.3"/></g>
<g id="n91x440"><circle cx="440.7" cy="1854.6" r="5.3"/></g><g id="n92x440"><circle cx="440.7" cy="1874.8" r="5.3"/></g>
<g id="n93x400"><circle cx="400.7" cy="1895.1" r="5.3"/></g><g id="n94x400"><circle cx="400.7" cy="1915.4" r="5.3"/></g>
<g id="n93x434"><circle cx="434" cy="1895.1" r="5.3"/></g><g id="n94x434"><circle cx="434" cy="1915.4" r="5.3"/></g><g id="n95x434"><circle cx="434" cy="1935.7" r="5.3"/></g><g id="n96x434"><circle cx="434" cy="1955.9" r="5.3"/></g><g id="n97x434"><circle cx="434" cy="1976.2" r="5.3"/></g><g id="n98x434"><circle cx="434" cy="1996.5" r="5.3"/></g><g id="n99x434"><circle cx="434" cy="2016.7" r="5.3"/></g><g id="n100x434"><circle cx="434" cy="2037" r="5.3"/></g>
<g id="n77x560"><circle cx="560.7" cy="1570.8" r="5.3"/></g><g id="n78x560"><circle cx="560.7" cy="1591.1" r="5.3"/></g><g id="n79x560"><circle cx="560.7" cy="1611.3" r="5.3"/></g><g id="n80x560"><circle cx="560.7" cy="1631.6" r="5.3"/></g><g id="n81x560"><circle cx="560.7" cy="1651.9" r="5.3"/></g><g id="n82x560"><circle cx="560.7" cy="1672.1" r="5.3"/></g><g id="n83x560"><circle cx="560.7" cy="1692.4" r="5.3"/></g><g id="n84x560"><circle cx="560.7" cy="1712.7" r="5.3"/></g><g id="n85x560"><circle cx="560.7" cy="1733" r="5.3"/></g><g id="n86x560"><circle cx="560.7" cy="1753.2" r="5.3"/></g><g id="n87x560"><circle cx="560.7" cy="1773.5" r="5.3"/></g><g id="n88x560"><circle cx="560.7" cy="1793.8" r="5.3"/></g>
<g id="n81x527"><circle cx="527.3" cy="1651.9" r="5.3"/></g><g id="n82x527"><circle cx="527.3" cy="1672.1" r="5.3"/></g><g id="n83x527"><circle cx="527.3" cy="1692.4" r="5.3"/></g><g id="n84x527"><circle cx="527.3" cy="1712.7" r="5.3"/></g>
<g id="n85x527"><circle cx="527.3" cy="1733" r="5.3"/></g><g id="n86x527"><circle cx="527.3" cy="1753.2" r="5.3"/></g><g id="n87x527"><circle cx="527.3" cy="1773.5" r="5.3"/></g><g id="n88x527"><circle cx="527.3" cy="1793.8" r="5.3"/></g>
<g id="n77x594"><circle cx="594" cy="1570.8" r="5.3"/></g><g id="n78x594"><circle cx="594" cy="1591.1" r="5.3"/></g><g id="n79x594"><circle cx="594" cy="1611.3" r="5.3"/></g><g id="n80x594"><circle cx="594" cy="1631.6" r="5.3"/></g><g id="n81x594"><circle cx="594" cy="1651.9" r="5.3"/></g><g id="n82x594"><circle cx="594" cy="1672.1" r="5.3"/></g><g id="n83x594"><circle cx="594" cy="1692.4" r="5.3"/></g><g id="n84x594"><circle cx="594" cy="1712.7" r="5.3"/></g>
<g id="n77x627"><circle cx="627.3" cy="1570.8" r="5.3"/></g><g id="n78x627"><circle cx="627.3" cy="1591.1" r="5.3"/></g>
<g id="n89x544"><circle cx="544.7" cy="1814" r="5.3"/></g><g id="n90x544"><circle cx="544.7" cy="1834.3" r="5.3"/></g><g id="n91x544"><circle cx="544.7" cy="1854.6" r="5.3"/></g><g id="n92x544"><circle cx="544.7" cy="1874.8" r="5.3"/></g><g id="n93x544"><circle cx="544.7" cy="1895.1" r="5.3"/></g><g id="n94x544"><circle cx="544.7" cy="1915.4" r="5.3"/></g>
<g id="n89x578"><circle cx="578" cy="1814" r="5.3"/></g><g id="n90x578"><circle cx="578" cy="1834.3" r="5.3"/></g>
<g id="n95x527"><circle cx="527.3" cy="1935.7" r="5.3"/></g><g id="n96x527"><circle cx="527.3" cy="1955.9" r="5.3"/></g>
<g id="n95x560"><circle cx="560.7" cy="1935.7" r="5.3"/></g><g id="n96x560"><circle cx="560.7" cy="1955.9" r="5.3"/></g><g id="n97x560"><circle cx="560.7" cy="1976.2" r="5.3"/></g><g id="n98x560"><circle cx="560.7" cy="1996.5" r="5.3"/></g>
</g>
</svg>
